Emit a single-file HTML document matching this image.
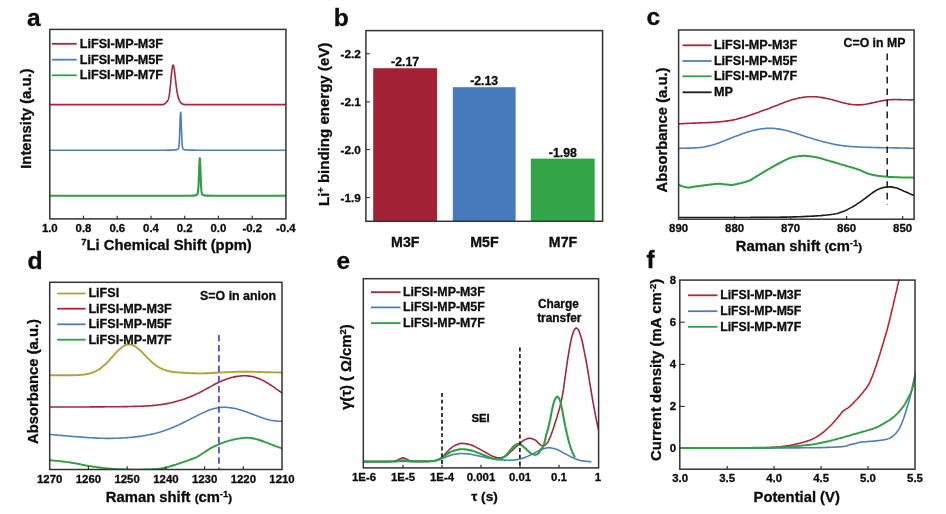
<!DOCTYPE html>
<html lang="en">
<head>
<meta charset="utf-8">
<title>Figure: LiFSI-MP electrolyte characterisation</title>
<style>
html,body{margin:0;padding:0;background:#ffffff;}
body{width:946px;height:514px;overflow:hidden;}
svg{display:block;filter:blur(0.4px);}
svg text{font-family:"Liberation Sans",Arial,Helvetica,sans-serif;font-weight:700;fill:#0c0c0c;stroke:#0c0c0c;stroke-width:0.3px;}
</style>
</head>
<body>
<svg width="946" height="514" viewBox="0 0 946 514">
<rect x="0" y="0" width="946" height="514" fill="#ffffff"/>
<g id="panel-a">
<text x="27" y="26.0" font-size="24.5" text-anchor="start" >a</text>
<path d="M49.8,104.6 L59.8,104.6 L69.8,104.6 L79.9,104.6 L89.9,104.6 L99.9,104.6 L109.9,104.6 L119.9,104.6 L129.9,104.6 L140.0,104.6 L150.0,104.6 L160.0,104.6 L160.2,104.6 L160.3,104.6 L160.4,104.6 L160.5,104.6 L160.6,104.6 L160.7,104.6 L160.8,104.6 L160.9,104.6 L161.0,104.6 L161.1,104.6 L161.2,104.6 L161.3,104.6 L161.4,104.6 L161.5,104.6 L161.6,104.6 L161.7,104.6 L161.8,104.6 L161.9,104.6 L162.0,104.6 L162.1,104.6 L162.2,104.6 L162.3,104.6 L162.4,104.6 L162.5,104.6 L162.6,104.6 L162.7,104.5 L162.8,104.5 L162.9,104.5 L163.0,104.5 L163.1,104.5 L163.2,104.5 L163.3,104.5 L163.4,104.4 L163.5,104.4 L163.6,104.4 L163.7,104.3 L163.8,104.3 L163.9,104.3 L164.0,104.2 L164.1,104.2 L164.2,104.1 L164.3,104.1 L164.4,104.0 L164.5,104.0 L164.6,103.9 L164.7,103.8 L164.8,103.7 L164.9,103.7 L165.0,103.6 L165.1,103.5 L165.2,103.4 L165.3,103.3 L165.4,103.2 L165.5,103.1 L165.6,103.0 L165.7,102.9 L165.8,102.8 L165.9,102.7 L166.0,102.6 L166.1,102.5 L166.2,102.4 L166.3,102.3 L166.4,102.2 L166.5,102.1 L166.6,102.0 L166.7,101.9 L166.8,101.8 L166.9,101.7 L167.0,101.6 L167.1,101.5 L167.2,101.4 L167.3,101.2 L167.4,101.1 L167.5,101.0 L167.6,100.8 L167.7,100.6 L167.8,100.5 L167.9,100.3 L168.0,100.1 L168.1,99.8 L168.2,99.6 L168.3,99.3 L168.4,99.0 L168.5,98.6 L168.6,98.3 L168.7,97.9 L168.8,97.5 L168.9,97.0 L169.0,96.5 L169.1,95.9 L169.2,95.4 L169.3,94.8 L169.4,94.1 L169.5,93.4 L169.6,92.7 L169.7,91.9 L169.8,91.1 L169.9,90.3 L170.0,89.4 L170.1,88.5 L170.2,87.5 L170.3,86.6 L170.4,85.6 L170.5,84.6 L170.6,83.6 L170.7,82.5 L170.8,81.5 L170.9,80.4 L171.0,79.4 L171.1,78.3 L171.2,77.3 L171.3,76.2 L171.4,75.2 L171.5,74.2 L171.6,73.3 L171.7,72.4 L171.8,71.5 L171.9,70.6 L172.0,69.8 L172.1,69.1 L172.2,68.4 L172.3,67.8 L172.4,67.2 L172.5,66.7 L172.6,66.2 L172.7,65.9 L172.8,65.6 L172.9,65.3 L173.0,65.2 L173.1,65.1 L173.2,65.1 L173.3,65.2 L173.4,65.3 L173.5,65.5 L173.6,65.8 L173.7,66.2 L173.8,66.6 L173.9,67.0 L174.0,67.6 L174.1,68.2 L174.2,68.8 L174.3,69.5 L174.4,70.2 L174.5,70.9 L174.6,71.7 L174.7,72.6 L174.8,73.4 L174.9,74.3 L175.0,75.2 L175.1,76.0 L175.2,76.9 L175.3,77.9 L175.4,78.8 L175.5,79.7 L175.6,80.6 L175.7,81.5 L175.8,82.3 L175.9,83.2 L176.0,84.1 L176.1,84.9 L176.2,85.7 L176.3,86.5 L176.4,87.3 L176.5,88.0 L176.6,88.7 L176.7,89.4 L176.8,90.1 L176.9,90.7 L177.0,91.4 L177.1,92.0 L177.2,92.5 L177.3,93.1 L177.4,93.6 L177.5,94.1 L177.6,94.6 L177.7,95.1 L177.8,95.5 L177.9,95.9 L178.0,96.3 L178.1,96.7 L178.2,97.1 L178.3,97.4 L178.4,97.7 L178.5,98.1 L178.6,98.4 L178.7,98.7 L178.8,98.9 L178.9,99.2 L179.0,99.5 L179.1,99.7 L179.2,99.9 L179.3,100.2 L179.4,100.4 L179.5,100.6 L179.6,100.8 L179.7,101.0 L179.8,101.2 L179.9,101.3 L180.0,101.5 L180.1,101.7 L180.2,101.8 L180.3,102.0 L180.4,102.1 L180.5,102.3 L180.6,102.4 L180.7,102.5 L180.8,102.6 L180.9,102.7 L181.0,102.9 L181.1,103.0 L181.2,103.1 L181.3,103.2 L181.4,103.2 L181.5,103.3 L181.6,103.4 L181.7,103.5 L181.8,103.6 L181.9,103.6 L182.0,103.7 L182.1,103.8 L182.2,103.8 L182.3,103.9 L182.4,103.9 L182.5,104.0 L182.6,104.0 L182.7,104.1 L182.8,104.1 L182.9,104.1 L183.0,104.2 L183.1,104.2 L183.1,104.2 L183.2,104.3 L183.3,104.3 L183.4,104.3 L183.5,104.3 L183.6,104.4 L183.7,104.4 L183.8,104.4 L183.9,104.4 L184.0,104.4 L184.1,104.5 L184.2,104.5 L184.3,104.5 L184.4,104.5 L184.5,104.5 L184.6,104.5 L184.7,104.5 L184.8,104.5 L184.9,104.5 L185.0,104.5 L185.1,104.5 L185.2,104.6 L185.3,104.6 L185.4,104.6 L185.5,104.6 L185.6,104.6 L185.7,104.6 L185.8,104.6 L185.9,104.6 L186.0,104.6 L186.1,104.6 L186.2,104.6 L186.3,104.6 L186.4,104.6 L186.5,104.6 L186.6,104.6 L186.7,104.6 L186.8,104.6 L186.9,104.6 L187.0,104.6 L187.1,104.6 L187.2,104.6 L187.3,104.6 L187.4,104.6 L187.5,104.6 L187.6,104.6 L187.7,104.6 L187.8,104.6 L187.9,104.6 L188.0,104.6 L188.1,104.6 L188.2,104.6 L188.3,104.6 L188.4,104.6 L188.5,104.6 L188.6,104.6 L188.7,104.6 L188.8,104.6 L188.9,104.6 L189.0,104.6 L189.1,104.6 L189.2,104.6 L189.3,104.6 L189.4,104.6 L189.5,104.6 L189.6,104.6 L189.7,104.6 L189.8,104.6 L189.9,104.6 L190.0,104.6 L190.1,104.6 L190.2,104.6 L190.3,104.6 L190.4,104.6 L190.5,104.6 L190.6,104.6 L190.7,104.6 L190.8,104.6 L190.9,104.6 L191.0,104.6 L191.1,104.6 L191.2,104.6 L191.3,104.6 L191.4,104.6 L191.5,104.6 L191.6,104.6 L191.7,104.6 L191.8,104.6 L191.9,104.6 L192.0,104.6 L192.1,104.6 L192.2,104.6 L192.3,104.6 L192.4,104.6 L192.5,104.6 L192.6,104.6 L192.7,104.6 L192.8,104.6 L192.9,104.6 L193.0,104.6 L193.1,104.6 L193.2,104.6 L193.3,104.6 L193.4,104.6 L193.5,104.6 L193.6,104.6 L193.7,104.6 L193.8,104.6 L193.9,104.6 L194.0,104.6 L194.1,104.6 L194.2,104.6 L194.3,104.6 L194.4,104.6 L194.5,104.6 L194.6,104.6 L194.7,104.6 L194.8,104.6 L194.9,104.6 L195.0,104.6 L195.1,104.6 L195.2,104.6 L195.3,104.6 L195.4,104.6 L195.5,104.6 L195.6,104.6 L195.7,104.6 L195.8,104.6 L195.9,104.6 L196.0,104.6 L196.1,104.6 L196.2,104.6 L196.3,104.6 L196.4,104.6 L196.5,104.6 L196.6,104.6 L196.7,104.6 L196.8,104.6 L196.9,104.6 L197.0,104.6 L197.1,104.6 L197.2,104.6 L197.3,104.6 L197.4,104.6 L197.5,104.6 L197.6,104.6 L197.7,104.6 L197.8,104.6 L197.9,104.6 L198.0,104.6 L198.1,104.6 L198.2,104.6 L198.3,104.6 L198.4,104.6 L198.5,104.6 L198.6,104.6 L198.7,104.6 L198.8,104.6 L198.9,104.6 L199.0,104.6 L199.1,104.6 L199.2,104.6 L199.3,104.6 L199.4,104.6 L199.5,104.6 L199.6,104.6 L199.7,104.6 L199.8,104.6 L199.9,104.6 L200.0,104.6 L200.1,104.6 L200.2,104.6 L200.3,104.6 L200.4,104.6 L200.5,104.6 L200.6,104.6 L200.7,104.6 L200.8,104.6 L200.9,104.6 L201.0,104.6 L201.1,104.6 L201.2,104.6 L201.3,104.6 L201.4,104.6 L201.5,104.6 L201.6,104.6 L201.7,104.6 L201.8,104.6 L201.9,104.6 L202.0,104.6 L202.1,104.6 L202.2,104.6 L202.3,104.6 L202.4,104.6 L202.5,104.6 L202.6,104.6 L202.7,104.6 L202.8,104.6 L202.9,104.6 L203.0,104.6 L203.1,104.6 L203.2,104.6 L203.3,104.6 L203.4,104.6 L203.5,104.6 L203.6,104.6 L203.7,104.6 L203.8,104.6 L203.9,104.6 L204.0,104.6 L204.1,104.6 L204.2,104.6 L204.3,104.6 L204.4,104.6 L204.5,104.6 L204.6,104.6 L204.7,104.6 L204.8,104.6 L204.9,104.6 L205.0,104.6 L205.1,104.6 L205.2,104.6 L205.3,104.6 L205.4,104.6 L205.5,104.6 L205.6,104.6 L205.7,104.6 L205.8,104.6 L205.9,104.6 L206.0,104.6 L206.5,104.6 L213.7,104.6 L220.9,104.6 L228.2,104.6 L235.4,104.6 L242.6,104.6 L249.8,104.6 L257.0,104.6 L264.2,104.6 L271.5,104.6 L278.7,104.6 L285.9,104.6" fill="none" stroke="#a3283a" stroke-width="1.6" stroke-linejoin="round" stroke-linecap="butt" />
<path d="M49.8,150.2 L59.8,150.2 L69.8,150.2 L79.9,150.2 L89.9,150.2 L99.9,150.2 L109.9,150.2 L119.9,150.2 L129.9,150.2 L140.0,150.2 L150.0,150.2 L160.0,150.2 L160.2,150.2 L160.3,150.2 L160.4,150.2 L160.5,150.2 L160.6,150.2 L160.7,150.2 L160.8,150.2 L160.9,150.2 L161.0,150.2 L161.1,150.2 L161.2,150.2 L161.3,150.2 L161.4,150.2 L161.5,150.2 L161.6,150.2 L161.7,150.2 L161.8,150.2 L161.9,150.2 L162.0,150.2 L162.1,150.2 L162.2,150.2 L162.3,150.2 L162.4,150.2 L162.5,150.2 L162.6,150.2 L162.7,150.2 L162.8,150.2 L162.9,150.2 L163.0,150.2 L163.1,150.2 L163.2,150.2 L163.3,150.2 L163.4,150.2 L163.5,150.2 L163.6,150.2 L163.7,150.2 L163.8,150.2 L163.9,150.2 L164.0,150.2 L164.1,150.2 L164.2,150.2 L164.3,150.2 L164.4,150.2 L164.5,150.2 L164.6,150.2 L164.7,150.2 L164.8,150.2 L164.9,150.2 L165.0,150.2 L165.1,150.2 L165.2,150.2 L165.3,150.2 L165.4,150.2 L165.5,150.2 L165.6,150.2 L165.7,150.2 L165.8,150.2 L165.9,150.2 L166.0,150.2 L166.1,150.2 L166.2,150.2 L166.3,150.2 L166.4,150.2 L166.5,150.2 L166.6,150.2 L166.7,150.2 L166.8,150.1 L166.9,150.1 L167.0,150.1 L167.1,150.1 L167.2,150.1 L167.3,150.1 L167.4,150.1 L167.5,150.1 L167.6,150.1 L167.7,150.1 L167.8,150.1 L167.9,150.1 L168.0,150.1 L168.1,150.1 L168.2,150.1 L168.3,150.1 L168.4,150.1 L168.5,150.1 L168.6,150.1 L168.7,150.1 L168.8,150.1 L168.9,150.1 L169.0,150.1 L169.1,150.1 L169.2,150.1 L169.3,150.1 L169.4,150.1 L169.5,150.1 L169.6,150.1 L169.7,150.1 L169.8,150.1 L169.9,150.1 L170.0,150.1 L170.1,150.1 L170.2,150.1 L170.3,150.1 L170.4,150.1 L170.5,150.1 L170.6,150.1 L170.7,150.1 L170.8,150.1 L170.9,150.1 L171.0,150.1 L171.1,150.1 L171.2,150.1 L171.3,150.1 L171.4,150.1 L171.5,150.1 L171.6,150.1 L171.7,150.1 L171.8,150.1 L171.9,150.1 L172.0,150.1 L172.1,150.1 L172.2,150.1 L172.3,150.1 L172.4,150.1 L172.5,150.1 L172.6,150.1 L172.7,150.1 L172.8,150.0 L172.9,150.0 L173.0,150.0 L173.1,150.0 L173.2,150.0 L173.3,150.0 L173.4,150.0 L173.5,150.0 L173.6,150.0 L173.7,150.0 L173.8,150.0 L173.9,150.0 L174.0,150.0 L174.1,150.0 L174.2,150.0 L174.3,150.0 L174.4,150.0 L174.5,150.0 L174.6,149.9 L174.7,149.9 L174.8,149.9 L174.9,149.9 L175.0,149.9 L175.1,149.9 L175.2,149.9 L175.3,149.9 L175.4,149.9 L175.5,149.9 L175.6,149.8 L175.7,149.8 L175.8,149.8 L175.9,149.8 L176.0,149.8 L176.1,149.8 L176.2,149.7 L176.3,149.7 L176.4,149.7 L176.5,149.7 L176.6,149.7 L176.7,149.6 L176.8,149.6 L176.9,149.6 L177.0,149.6 L177.1,149.5 L177.2,149.5 L177.3,149.4 L177.4,149.4 L177.5,149.4 L177.6,149.3 L177.7,149.3 L177.8,149.2 L177.9,149.1 L178.0,149.0 L178.1,149.0 L178.2,148.8 L178.3,148.7 L178.4,148.5 L178.5,148.3 L178.6,148.0 L178.7,147.6 L178.8,147.1 L178.9,146.4 L179.0,145.6 L179.1,144.6 L179.2,143.3 L179.3,141.7 L179.4,139.9 L179.5,137.8 L179.6,135.4 L179.7,132.8 L179.8,129.9 L179.9,126.9 L180.0,123.9 L180.1,121.1 L180.2,118.4 L180.3,116.1 L180.4,114.2 L180.5,112.9 L180.6,112.3 L180.7,112.3 L180.8,113.0 L180.9,114.4 L181.0,116.3 L181.1,118.7 L181.2,121.4 L181.3,124.3 L181.4,127.3 L181.5,130.2 L181.6,133.1 L181.7,135.7 L181.8,138.0 L181.9,140.1 L182.0,141.9 L182.1,143.4 L182.2,144.7 L182.3,145.7 L182.4,146.5 L182.5,147.1 L182.6,147.6 L182.7,148.0 L182.8,148.3 L182.9,148.5 L183.0,148.7 L183.1,148.8 L183.1,149.0 L183.2,149.1 L183.3,149.1 L183.4,149.2 L183.5,149.3 L183.6,149.3 L183.7,149.4 L183.8,149.4 L183.9,149.5 L184.0,149.5 L184.1,149.5 L184.2,149.6 L184.3,149.6 L184.4,149.6 L184.5,149.6 L184.6,149.7 L184.7,149.7 L184.8,149.7 L184.9,149.7 L185.0,149.8 L185.1,149.8 L185.2,149.8 L185.3,149.8 L185.4,149.8 L185.5,149.8 L185.6,149.8 L185.7,149.9 L185.8,149.9 L185.9,149.9 L186.0,149.9 L186.1,149.9 L186.2,149.9 L186.3,149.9 L186.4,149.9 L186.5,149.9 L186.6,149.9 L186.7,150.0 L186.8,150.0 L186.9,150.0 L187.0,150.0 L187.1,150.0 L187.2,150.0 L187.3,150.0 L187.4,150.0 L187.5,150.0 L187.6,150.0 L187.7,150.0 L187.8,150.0 L187.9,150.0 L188.0,150.0 L188.1,150.0 L188.2,150.0 L188.3,150.0 L188.4,150.0 L188.5,150.1 L188.6,150.1 L188.7,150.1 L188.8,150.1 L188.9,150.1 L189.0,150.1 L189.1,150.1 L189.2,150.1 L189.3,150.1 L189.4,150.1 L189.5,150.1 L189.6,150.1 L189.7,150.1 L189.8,150.1 L189.9,150.1 L190.0,150.1 L190.1,150.1 L190.2,150.1 L190.3,150.1 L190.4,150.1 L190.5,150.1 L190.6,150.1 L190.7,150.1 L190.8,150.1 L190.9,150.1 L191.0,150.1 L191.1,150.1 L191.2,150.1 L191.3,150.1 L191.4,150.1 L191.5,150.1 L191.6,150.1 L191.7,150.1 L191.8,150.1 L191.9,150.1 L192.0,150.1 L192.1,150.1 L192.2,150.1 L192.3,150.1 L192.4,150.1 L192.5,150.1 L192.6,150.1 L192.7,150.1 L192.8,150.1 L192.9,150.1 L193.0,150.1 L193.1,150.1 L193.2,150.1 L193.3,150.1 L193.4,150.1 L193.5,150.1 L193.6,150.1 L193.7,150.1 L193.8,150.1 L193.9,150.1 L194.0,150.1 L194.1,150.1 L194.2,150.1 L194.3,150.1 L194.4,150.2 L194.5,150.2 L194.6,150.2 L194.7,150.2 L194.8,150.2 L194.9,150.2 L195.0,150.2 L195.1,150.2 L195.2,150.2 L195.3,150.2 L195.4,150.2 L195.5,150.2 L195.6,150.2 L195.7,150.2 L195.8,150.2 L195.9,150.2 L196.0,150.2 L196.1,150.2 L196.2,150.2 L196.3,150.2 L196.4,150.2 L196.5,150.2 L196.6,150.2 L196.7,150.2 L196.8,150.2 L196.9,150.2 L197.0,150.2 L197.1,150.2 L197.2,150.2 L197.3,150.2 L197.4,150.2 L197.5,150.2 L197.6,150.2 L197.7,150.2 L197.8,150.2 L197.9,150.2 L198.0,150.2 L198.1,150.2 L198.2,150.2 L198.3,150.2 L198.4,150.2 L198.5,150.2 L198.6,150.2 L198.7,150.2 L198.8,150.2 L198.9,150.2 L199.0,150.2 L199.1,150.2 L199.2,150.2 L199.3,150.2 L199.4,150.2 L199.5,150.2 L199.6,150.2 L199.7,150.2 L199.8,150.2 L199.9,150.2 L200.0,150.2 L200.1,150.2 L200.2,150.2 L200.3,150.2 L200.4,150.2 L200.5,150.2 L200.6,150.2 L200.7,150.2 L200.8,150.2 L200.9,150.2 L201.0,150.2 L201.1,150.2 L201.2,150.2 L201.3,150.2 L201.4,150.2 L201.5,150.2 L201.6,150.2 L201.7,150.2 L201.8,150.2 L201.9,150.2 L202.0,150.2 L202.1,150.2 L202.2,150.2 L202.3,150.2 L202.4,150.2 L202.5,150.2 L202.6,150.2 L202.7,150.2 L202.8,150.2 L202.9,150.2 L203.0,150.2 L203.1,150.2 L203.2,150.2 L203.3,150.2 L203.4,150.2 L203.5,150.2 L203.6,150.2 L203.7,150.2 L203.8,150.2 L203.9,150.2 L204.0,150.2 L204.1,150.2 L204.2,150.2 L204.3,150.2 L204.4,150.2 L204.5,150.2 L204.6,150.2 L204.7,150.2 L204.8,150.2 L204.9,150.2 L205.0,150.2 L205.1,150.2 L205.2,150.2 L205.3,150.2 L205.4,150.2 L205.5,150.2 L205.6,150.2 L205.7,150.2 L205.8,150.2 L205.9,150.2 L206.0,150.2 L206.5,150.2 L213.7,150.2 L220.9,150.2 L228.2,150.2 L235.4,150.2 L242.6,150.2 L249.8,150.2 L257.0,150.2 L264.2,150.2 L271.5,150.2 L278.7,150.2 L285.9,150.2" fill="none" stroke="#4d7fb7" stroke-width="1.6" stroke-linejoin="round" stroke-linecap="butt" />
<path d="M49.8,195.8 L59.8,195.8 L69.8,195.8 L79.9,195.8 L89.9,195.8 L99.9,195.8 L109.9,195.8 L119.9,195.8 L129.9,195.8 L140.0,195.8 L150.0,195.8 L160.0,195.8 L160.2,195.8 L160.3,195.8 L160.4,195.8 L160.5,195.8 L160.6,195.8 L160.7,195.8 L160.8,195.8 L160.9,195.8 L161.0,195.8 L161.1,195.8 L161.2,195.8 L161.3,195.8 L161.4,195.8 L161.5,195.8 L161.6,195.8 L161.7,195.8 L161.8,195.8 L161.9,195.8 L162.0,195.8 L162.1,195.8 L162.2,195.8 L162.3,195.8 L162.4,195.8 L162.5,195.8 L162.6,195.8 L162.7,195.8 L162.8,195.8 L162.9,195.8 L163.0,195.8 L163.1,195.8 L163.2,195.8 L163.3,195.8 L163.4,195.8 L163.5,195.8 L163.6,195.8 L163.7,195.8 L163.8,195.8 L163.9,195.8 L164.0,195.8 L164.1,195.8 L164.2,195.8 L164.3,195.8 L164.4,195.8 L164.5,195.8 L164.6,195.8 L164.7,195.8 L164.8,195.8 L164.9,195.8 L165.0,195.8 L165.1,195.8 L165.2,195.8 L165.3,195.8 L165.4,195.8 L165.5,195.8 L165.6,195.8 L165.7,195.8 L165.8,195.8 L165.9,195.8 L166.0,195.8 L166.1,195.8 L166.2,195.8 L166.3,195.8 L166.4,195.8 L166.5,195.8 L166.6,195.8 L166.7,195.8 L166.8,195.8 L166.9,195.8 L167.0,195.8 L167.1,195.8 L167.2,195.8 L167.3,195.8 L167.4,195.8 L167.5,195.8 L167.6,195.8 L167.7,195.8 L167.8,195.8 L167.9,195.8 L168.0,195.8 L168.1,195.8 L168.2,195.8 L168.3,195.8 L168.4,195.8 L168.5,195.8 L168.6,195.8 L168.7,195.8 L168.8,195.8 L168.9,195.8 L169.0,195.8 L169.1,195.8 L169.2,195.8 L169.3,195.8 L169.4,195.8 L169.5,195.8 L169.6,195.8 L169.7,195.8 L169.8,195.8 L169.9,195.8 L170.0,195.8 L170.1,195.8 L170.2,195.8 L170.3,195.8 L170.4,195.8 L170.5,195.8 L170.6,195.8 L170.7,195.8 L170.8,195.8 L170.9,195.8 L171.0,195.8 L171.1,195.8 L171.2,195.8 L171.3,195.8 L171.4,195.8 L171.5,195.8 L171.6,195.8 L171.7,195.8 L171.8,195.8 L171.9,195.8 L172.0,195.8 L172.1,195.8 L172.2,195.8 L172.3,195.8 L172.4,195.8 L172.5,195.8 L172.6,195.8 L172.7,195.8 L172.8,195.8 L172.9,195.8 L173.0,195.8 L173.1,195.8 L173.2,195.8 L173.3,195.8 L173.4,195.8 L173.5,195.8 L173.6,195.8 L173.7,195.8 L173.8,195.8 L173.9,195.8 L174.0,195.8 L174.1,195.8 L174.2,195.8 L174.3,195.8 L174.4,195.8 L174.5,195.8 L174.6,195.8 L174.7,195.8 L174.8,195.8 L174.9,195.8 L175.0,195.8 L175.1,195.8 L175.2,195.8 L175.3,195.8 L175.4,195.8 L175.5,195.8 L175.6,195.8 L175.7,195.8 L175.8,195.8 L175.9,195.8 L176.0,195.8 L176.1,195.8 L176.2,195.8 L176.3,195.8 L176.4,195.8 L176.5,195.8 L176.6,195.8 L176.7,195.8 L176.8,195.8 L176.9,195.8 L177.0,195.8 L177.1,195.8 L177.2,195.8 L177.3,195.8 L177.4,195.8 L177.5,195.8 L177.6,195.8 L177.7,195.8 L177.8,195.8 L177.9,195.8 L178.0,195.8 L178.1,195.8 L178.2,195.8 L178.3,195.8 L178.4,195.8 L178.5,195.8 L178.6,195.8 L178.7,195.8 L178.8,195.8 L178.9,195.8 L179.0,195.8 L179.1,195.8 L179.2,195.8 L179.3,195.8 L179.4,195.8 L179.5,195.8 L179.6,195.8 L179.7,195.8 L179.8,195.8 L179.9,195.8 L180.0,195.8 L180.1,195.8 L180.2,195.8 L180.3,195.8 L180.4,195.8 L180.5,195.8 L180.6,195.8 L180.7,195.8 L180.8,195.8 L180.9,195.8 L181.0,195.8 L181.1,195.8 L181.2,195.8 L181.3,195.8 L181.4,195.8 L181.5,195.8 L181.6,195.8 L181.7,195.8 L181.8,195.8 L181.9,195.8 L182.0,195.8 L182.1,195.8 L182.2,195.8 L182.3,195.8 L182.4,195.8 L182.5,195.8 L182.6,195.8 L182.7,195.8 L182.8,195.8 L182.9,195.8 L183.0,195.8 L183.1,195.8 L183.1,195.8 L183.2,195.8 L183.3,195.8 L183.4,195.8 L183.5,195.8 L183.6,195.8 L183.7,195.8 L183.8,195.8 L183.9,195.8 L184.0,195.8 L184.1,195.8 L184.2,195.8 L184.3,195.8 L184.4,195.8 L184.5,195.8 L184.6,195.8 L184.7,195.8 L184.8,195.8 L184.9,195.8 L185.0,195.8 L185.1,195.8 L185.2,195.8 L185.3,195.8 L185.4,195.8 L185.5,195.8 L185.6,195.8 L185.7,195.8 L185.8,195.8 L185.9,195.8 L186.0,195.8 L186.1,195.7 L186.2,195.7 L186.3,195.7 L186.4,195.7 L186.5,195.7 L186.6,195.7 L186.7,195.7 L186.8,195.7 L186.9,195.7 L187.0,195.7 L187.1,195.7 L187.2,195.7 L187.3,195.7 L187.4,195.7 L187.5,195.7 L187.6,195.7 L187.7,195.7 L187.8,195.7 L187.9,195.7 L188.0,195.7 L188.1,195.7 L188.2,195.7 L188.3,195.7 L188.4,195.7 L188.5,195.7 L188.6,195.7 L188.7,195.7 L188.8,195.7 L188.9,195.7 L189.0,195.7 L189.1,195.7 L189.2,195.7 L189.3,195.7 L189.4,195.7 L189.5,195.7 L189.6,195.7 L189.7,195.7 L189.8,195.7 L189.9,195.7 L190.0,195.7 L190.1,195.7 L190.2,195.7 L190.3,195.7 L190.4,195.7 L190.5,195.7 L190.6,195.7 L190.7,195.7 L190.8,195.7 L190.9,195.7 L191.0,195.7 L191.1,195.7 L191.2,195.7 L191.3,195.7 L191.4,195.7 L191.5,195.7 L191.6,195.7 L191.7,195.7 L191.8,195.7 L191.9,195.7 L192.0,195.6 L192.1,195.6 L192.2,195.6 L192.3,195.6 L192.4,195.6 L192.5,195.6 L192.6,195.6 L192.7,195.6 L192.8,195.6 L192.9,195.6 L193.0,195.6 L193.1,195.6 L193.2,195.6 L193.3,195.6 L193.4,195.6 L193.5,195.6 L193.6,195.6 L193.7,195.6 L193.8,195.5 L193.9,195.5 L194.0,195.5 L194.1,195.5 L194.2,195.5 L194.3,195.5 L194.4,195.5 L194.5,195.5 L194.6,195.5 L194.7,195.5 L194.8,195.4 L194.9,195.4 L195.0,195.4 L195.1,195.4 L195.2,195.4 L195.3,195.4 L195.4,195.3 L195.5,195.3 L195.6,195.3 L195.7,195.3 L195.8,195.3 L195.9,195.2 L196.0,195.2 L196.1,195.2 L196.2,195.1 L196.3,195.1 L196.4,195.1 L196.5,195.0 L196.6,195.0 L196.7,194.9 L196.8,194.9 L196.9,194.8 L197.0,194.8 L197.1,194.7 L197.2,194.6 L197.3,194.5 L197.4,194.3 L197.5,194.1 L197.6,193.9 L197.7,193.5 L197.8,193.1 L197.9,192.6 L198.0,191.9 L198.1,191.1 L198.2,190.1 L198.3,188.8 L198.4,187.3 L198.5,185.6 L198.6,183.5 L198.7,181.2 L198.8,178.7 L198.9,176.0 L199.0,173.2 L199.1,170.3 L199.2,167.5 L199.3,164.9 L199.4,162.6 L199.5,160.7 L199.6,159.3 L199.7,158.4 L199.8,158.2 L199.9,158.6 L200.0,159.6 L200.1,161.2 L200.2,163.2 L200.3,165.6 L200.4,168.3 L200.5,171.1 L200.6,174.0 L200.7,176.7 L200.8,179.4 L200.9,181.9 L201.0,184.1 L201.1,186.1 L201.2,187.8 L201.3,189.2 L201.4,190.4 L201.5,191.4 L201.6,192.1 L201.7,192.8 L201.8,193.3 L201.9,193.6 L202.0,193.9 L202.1,194.2 L202.2,194.3 L202.3,194.5 L202.4,194.6 L202.5,194.7 L202.6,194.8 L202.7,194.8 L202.8,194.9 L202.9,195.0 L203.0,195.0 L203.1,195.0 L203.2,195.1 L203.3,195.1 L203.4,195.2 L203.5,195.2 L203.6,195.2 L203.7,195.2 L203.8,195.3 L203.9,195.3 L204.0,195.3 L204.1,195.3 L204.2,195.3 L204.3,195.4 L204.4,195.4 L204.5,195.4 L204.6,195.4 L204.7,195.4 L204.8,195.4 L204.9,195.5 L205.0,195.5 L205.1,195.5 L205.2,195.5 L205.3,195.5 L205.4,195.5 L205.5,195.5 L205.6,195.5 L205.7,195.5 L205.8,195.5 L205.9,195.6 L206.0,195.6 L206.5,195.6 L213.7,195.8 L220.9,195.8 L228.2,195.8 L235.4,195.8 L242.6,195.8 L249.8,195.8 L257.0,195.8 L264.2,195.8 L271.5,195.8 L278.7,195.8 L285.9,195.8" fill="none" stroke="#2f9e44" stroke-width="2.1" stroke-linejoin="round" stroke-linecap="butt" />
<rect x="49.8" y="29.4" width="236.1" height="189.5" fill="none" stroke="#333333" stroke-width="1.5"/>
<line x1="83.5" y1="218.9" x2="83.5" y2="215.70000000000002" stroke="#333333" stroke-width="1.2"/>
<line x1="117.3" y1="218.9" x2="117.3" y2="215.70000000000002" stroke="#333333" stroke-width="1.2"/>
<line x1="151.0" y1="218.9" x2="151.0" y2="215.70000000000002" stroke="#333333" stroke-width="1.2"/>
<line x1="184.7" y1="218.9" x2="184.7" y2="215.70000000000002" stroke="#333333" stroke-width="1.2"/>
<line x1="218.4" y1="218.9" x2="218.4" y2="215.70000000000002" stroke="#333333" stroke-width="1.2"/>
<line x1="252.2" y1="218.9" x2="252.2" y2="215.70000000000002" stroke="#333333" stroke-width="1.2"/>
<text x="49.8" y="231.8" font-size="11.4" text-anchor="middle" >1.0</text>
<text x="83.5" y="231.8" font-size="11.4" text-anchor="middle" >0.8</text>
<text x="117.3" y="231.8" font-size="11.4" text-anchor="middle" >0.6</text>
<text x="151.0" y="231.8" font-size="11.4" text-anchor="middle" >0.4</text>
<text x="184.7" y="231.8" font-size="11.4" text-anchor="middle" >0.2</text>
<text x="218.4" y="231.8" font-size="11.4" text-anchor="middle" >0.0</text>
<text x="252.2" y="231.8" font-size="11.4" text-anchor="middle" >-0.2</text>
<text x="285.9" y="231.8" font-size="11.4" text-anchor="middle" >-0.4</text>
<line x1="51.9" y1="43.8" x2="76.7" y2="43.8" stroke="#a3283a" stroke-width="1.8"/>
<text x="79.80000000000001" y="47.7" font-size="12.6" text-anchor="start" >LiFSI-MP-M3F</text>
<line x1="51.9" y1="59.699999999999996" x2="76.7" y2="59.699999999999996" stroke="#4d7fb7" stroke-width="1.8"/>
<text x="79.80000000000001" y="63.6" font-size="12.6" text-anchor="start" >LiFSI-MP-M5F</text>
<line x1="51.9" y1="75.3" x2="76.7" y2="75.3" stroke="#2f9e44" stroke-width="1.8"/>
<text x="79.80000000000001" y="79.2" font-size="12.6" text-anchor="start" >LiFSI-MP-M7F</text>
<text x="166.5" y="250.2" font-size="14.8" text-anchor="middle" ><tspan font-size="9.5" dy="-5">7</tspan><tspan dy="5">Li Chemical Shift (ppm)</tspan></text>
<text transform="translate(31.2,118.6) rotate(-90)" font-size="14.8" text-anchor="middle">Intensity (a.u.)</text>
</g>
<g id="panel-b">
<text x="333.8" y="26.0" font-size="24.5" text-anchor="start" >b</text>
<rect x="373.2" y="68.2" width="63.9" height="153.1" fill="#a42236"/>
<text x="405.1" y="66.2" font-size="12.3" text-anchor="middle" >-2.17</text>
<rect x="452.8" y="87.2" width="62.8" height="134.1" fill="#457abd"/>
<text x="484.2" y="85.2" font-size="12.3" text-anchor="middle" >-2.13</text>
<rect x="530.8" y="158.6" width="63.9" height="62.7" fill="#31a548"/>
<text x="562.8" y="156.6" font-size="12.3" text-anchor="middle" >-1.98</text>
<rect x="365.9" y="30.6" width="236.7" height="190.7" fill="none" stroke="#333333" stroke-width="1.5"/>
<line x1="365.9" y1="53.8" x2="369.9" y2="53.8" stroke="#333333" stroke-width="1.1"/>
<line x1="365.9" y1="101.9" x2="369.9" y2="101.9" stroke="#333333" stroke-width="1.1"/>
<line x1="365.9" y1="149.5" x2="369.9" y2="149.5" stroke="#333333" stroke-width="1.1"/>
<line x1="365.9" y1="197.5" x2="369.9" y2="197.5" stroke="#333333" stroke-width="1.1"/>
<text x="360.8" y="57.9" font-size="11.8" text-anchor="end" >-2.2</text>
<text x="360.8" y="106.0" font-size="11.8" text-anchor="end" >-2.1</text>
<text x="360.8" y="153.6" font-size="11.8" text-anchor="end" >-2.0</text>
<text x="360.8" y="201.6" font-size="11.8" text-anchor="end" >-1.9</text>
<text x="405.3" y="247.3" font-size="14.2" text-anchor="middle" >M3F</text>
<text x="484.4" y="247.3" font-size="14.2" text-anchor="middle" >M5F</text>
<text x="563.0" y="247.3" font-size="14.2" text-anchor="middle" >M7F</text>
<text transform="translate(328.6,124.3) rotate(-90)" font-size="15.05" text-anchor="middle">Li<tspan font-size="9" dy="-5">+</tspan><tspan dy="5"> binding energy (eV)</tspan></text>
</g>
<g id="panel-c">
<text x="646.5" y="25.0" font-size="24.5" text-anchor="start" >c</text>
<clipPath id="clc"><rect x="678.6" y="30" width="235.8" height="188.3"/></clipPath>
<g clip-path="url(#clc)">
<path d="M678.6,123.9 L680.1,123.8 L681.6,123.7 L683.0,123.6 L684.5,123.5 L686.0,123.5 L687.5,123.4 L689.0,123.3 L690.5,123.3 L691.9,123.2 L693.4,123.1 L694.9,123.1 L696.4,123.0 L697.9,123.0 L699.4,122.9 L700.8,122.9 L702.3,122.8 L703.8,122.8 L705.3,122.7 L706.8,122.6 L708.3,122.6 L709.7,122.5 L711.2,122.4 L712.7,122.3 L714.2,122.2 L715.7,122.1 L717.2,122.0 L718.6,121.9 L720.1,121.8 L721.6,121.6 L723.1,121.5 L724.6,121.3 L726.1,121.1 L727.5,120.9 L729.0,120.7 L730.5,120.4 L732.0,120.2 L733.5,119.9 L735.0,119.5 L736.4,119.2 L737.9,118.8 L739.4,118.4 L740.9,118.0 L742.4,117.6 L743.9,117.2 L745.3,116.7 L746.8,116.2 L748.3,115.7 L749.8,115.2 L751.3,114.7 L752.8,114.2 L754.2,113.7 L755.7,113.2 L757.2,112.7 L758.7,112.2 L760.2,111.6 L761.6,111.1 L763.1,110.6 L764.6,110.0 L766.1,109.5 L767.6,108.9 L769.1,108.4 L770.5,107.8 L772.0,107.2 L773.5,106.6 L775.0,106.1 L776.5,105.5 L778.0,104.9 L779.4,104.3 L780.9,103.7 L782.4,103.2 L783.9,102.6 L785.4,102.1 L786.9,101.6 L788.3,101.0 L789.8,100.6 L791.3,100.1 L792.8,99.6 L794.3,99.2 L795.8,98.8 L797.2,98.5 L798.7,98.1 L800.2,97.8 L801.7,97.6 L803.2,97.3 L804.7,97.1 L806.1,97.0 L807.6,96.8 L809.1,96.7 L810.6,96.7 L812.1,96.7 L813.6,96.7 L815.0,96.8 L816.5,96.9 L818.0,97.0 L819.5,97.2 L821.0,97.4 L822.5,97.6 L823.9,97.9 L825.4,98.2 L826.9,98.5 L828.4,98.8 L829.9,99.2 L831.4,99.5 L832.8,99.9 L834.3,100.3 L835.8,100.8 L837.3,101.2 L838.8,101.6 L840.2,102.0 L841.7,102.4 L843.2,102.8 L844.7,103.1 L846.2,103.5 L847.7,103.8 L849.1,104.1 L850.6,104.3 L852.1,104.5 L853.6,104.7 L855.1,104.8 L856.6,104.9 L858.0,104.9 L859.5,104.9 L861.0,104.8 L862.5,104.6 L864.0,104.5 L865.5,104.3 L866.9,104.0 L868.4,103.7 L869.9,103.4 L871.4,103.1 L872.9,102.8 L874.4,102.5 L875.8,102.1 L877.3,101.8 L878.8,101.5 L880.3,101.1 L881.8,100.8 L883.3,100.6 L884.7,100.3 L886.2,100.1 L887.7,99.9 L889.2,99.8 L890.7,99.7 L892.2,99.6 L893.6,99.6 L895.1,99.5 L896.6,99.5 L898.1,99.6 L899.6,99.6 L901.1,99.6 L902.5,99.7 L904.0,99.7 L905.5,99.8 L907.0,99.8 L908.5,99.8 L910.0,99.9 L911.4,99.9 L912.9,99.8 L914.4,99.8" fill="none" stroke="#a3283a" stroke-width="1.6" stroke-linejoin="round" stroke-linecap="butt" />
<path d="M678.6,148.5 L680.1,148.4 L681.6,148.3 L683.0,148.3 L684.5,148.2 L686.0,148.2 L687.5,148.1 L689.0,148.1 L690.5,148.1 L691.9,148.0 L693.4,147.9 L694.9,147.9 L696.4,147.8 L697.9,147.7 L699.4,147.5 L700.8,147.4 L702.3,147.2 L703.8,147.0 L705.3,146.7 L706.8,146.4 L708.3,146.1 L709.7,145.7 L711.2,145.3 L712.7,144.9 L714.2,144.4 L715.7,144.0 L717.2,143.5 L718.6,142.9 L720.1,142.4 L721.6,141.8 L723.1,141.2 L724.6,140.7 L726.1,140.1 L727.5,139.5 L729.0,138.9 L730.5,138.3 L732.0,137.7 L733.5,137.1 L735.0,136.6 L736.4,136.0 L737.9,135.4 L739.4,134.9 L740.9,134.3 L742.4,133.8 L743.9,133.3 L745.3,132.8 L746.8,132.3 L748.3,131.8 L749.8,131.4 L751.3,131.0 L752.8,130.6 L754.2,130.2 L755.7,129.9 L757.2,129.6 L758.7,129.3 L760.2,129.0 L761.6,128.8 L763.1,128.7 L764.6,128.5 L766.1,128.4 L767.6,128.3 L769.1,128.3 L770.5,128.3 L772.0,128.3 L773.5,128.4 L775.0,128.5 L776.5,128.7 L778.0,128.9 L779.4,129.1 L780.9,129.4 L782.4,129.6 L783.9,129.9 L785.4,130.3 L786.9,130.7 L788.3,131.1 L789.8,131.5 L791.3,131.9 L792.8,132.4 L794.3,132.8 L795.8,133.3 L797.2,133.8 L798.7,134.3 L800.2,134.8 L801.7,135.3 L803.2,135.8 L804.7,136.2 L806.1,136.7 L807.6,137.2 L809.1,137.6 L810.6,138.1 L812.1,138.5 L813.6,139.0 L815.0,139.4 L816.5,139.8 L818.0,140.2 L819.5,140.7 L821.0,141.1 L822.5,141.5 L823.9,141.9 L825.4,142.2 L826.9,142.6 L828.4,143.0 L829.9,143.3 L831.4,143.6 L832.8,144.0 L834.3,144.3 L835.8,144.6 L837.3,144.8 L838.8,145.1 L840.2,145.3 L841.7,145.5 L843.2,145.7 L844.7,145.9 L846.2,146.1 L847.7,146.2 L849.1,146.4 L850.6,146.5 L852.1,146.6 L853.6,146.7 L855.1,146.8 L856.6,146.9 L858.0,147.0 L859.5,147.0 L861.0,147.1 L862.5,147.2 L864.0,147.2 L865.5,147.3 L866.9,147.3 L868.4,147.4 L869.9,147.4 L871.4,147.4 L872.9,147.5 L874.4,147.5 L875.8,147.6 L877.3,147.6 L878.8,147.6 L880.3,147.6 L881.8,147.7 L883.3,147.7 L884.7,147.7 L886.2,147.7 L887.7,147.8 L889.2,147.8 L890.7,147.8 L892.2,147.8 L893.6,147.9 L895.1,147.9 L896.6,147.9 L898.1,147.9 L899.6,148.0 L901.1,148.0 L902.5,148.0 L904.0,148.0 L905.5,148.1 L907.0,148.1 L908.5,148.1 L910.0,148.2 L911.4,148.2 L912.9,148.3 L914.4,148.3" fill="none" stroke="#4d7fb7" stroke-width="1.6" stroke-linejoin="round" stroke-linecap="butt" />
<path d="M678.6,184.9 L679.7,185.3 L680.8,185.7 L681.8,186.1 L682.9,186.4 L684.0,186.7 L685.1,186.9 L686.1,187.2 L687.2,187.4 L688.3,187.5 L689.4,187.5 L690.4,187.4 L691.5,187.2 L692.6,187.0 L693.7,186.8 L694.8,186.6 L695.8,186.5 L696.9,186.3 L698.0,186.2 L699.1,186.0 L700.1,185.9 L701.2,185.7 L702.3,185.6 L703.4,185.5 L704.4,185.3 L705.5,185.2 L706.6,185.0 L707.7,184.9 L708.7,184.8 L709.8,184.6 L710.9,184.5 L712.0,184.4 L713.1,184.3 L714.1,184.1 L715.2,184.0 L716.3,183.9 L717.4,183.8 L718.4,183.7 L719.5,183.7 L720.6,183.8 L721.7,183.9 L722.7,184.1 L723.8,184.3 L724.9,184.4 L726.0,184.5 L727.1,184.6 L728.1,184.7 L729.2,184.8 L730.3,184.9 L731.4,184.9 L732.4,184.9 L733.5,184.7 L734.6,184.5 L735.7,184.3 L736.7,184.1 L737.8,183.8 L738.9,183.6 L740.0,183.4 L741.0,183.1 L742.1,182.8 L743.2,182.5 L744.3,182.3 L745.4,182.0 L746.4,181.6 L747.5,181.3 L748.6,180.9 L749.7,180.5 L750.7,180.0 L751.8,179.4 L752.9,178.7 L754.0,178.0 L755.0,177.3 L756.1,176.6 L757.2,176.0 L758.3,175.3 L759.4,174.7 L760.4,174.0 L761.5,173.4 L762.6,172.7 L763.7,172.1 L764.7,171.4 L765.8,170.8 L766.9,170.1 L768.0,169.5 L769.0,168.9 L770.1,168.3 L771.2,167.6 L772.3,167.0 L773.4,166.4 L774.4,165.8 L775.5,165.2 L776.6,164.6 L777.7,164.0 L778.7,163.5 L779.8,162.9 L780.9,162.3 L782.0,161.8 L783.0,161.2 L784.1,160.7 L785.2,160.1 L786.3,159.6 L787.3,159.0 L788.4,158.6 L789.5,158.2 L790.6,157.8 L791.7,157.5 L792.7,157.2 L793.8,157.0 L794.9,156.8 L796.0,156.6 L797.0,156.4 L798.1,156.3 L799.2,156.1 L800.3,156.0 L801.3,155.9 L802.4,155.8 L803.5,155.8 L804.6,155.8 L805.7,155.9 L806.7,156.0 L807.8,156.1 L808.9,156.2 L810.0,156.3 L811.0,156.4 L812.1,156.6 L813.2,156.7 L814.3,156.9 L815.3,157.1 L816.4,157.2 L817.5,157.5 L818.6,157.7 L819.6,158.0 L820.7,158.3 L821.8,158.6 L822.9,159.0 L824.0,159.3 L825.0,159.6 L826.1,160.0 L827.2,160.3 L828.3,160.6 L829.3,160.9 L830.4,161.2 L831.5,161.5 L832.6,161.8 L833.6,162.2 L834.7,162.5 L835.8,162.8 L836.9,163.1 L838.0,163.4 L839.0,163.7 L840.1,164.1 L841.2,164.4 L842.3,164.7 L843.3,165.0 L844.4,165.3 L845.5,165.6 L846.6,166.0 L847.6,166.3 L848.7,166.6 L849.8,166.9 L850.9,167.2 L852.0,167.5 L853.0,167.8 L854.1,168.1 L855.2,168.5 L856.3,168.8 L857.3,169.2 L858.4,169.5 L859.5,169.9 L860.6,170.4 L861.6,170.8 L862.7,171.3 L863.8,171.8 L864.9,172.3 L865.9,172.8 L867.0,173.2 L868.1,173.6 L869.2,174.0 L870.3,174.3 L871.3,174.5 L872.4,174.8 L873.5,175.0 L874.6,175.2 L875.6,175.4 L876.7,175.6 L877.8,175.8 L878.9,175.9 L879.9,176.0 L881.0,176.2 L882.1,176.3 L883.2,176.4 L884.3,176.5 L885.3,176.6 L886.4,176.7 L887.5,176.8 L888.6,176.9 L889.6,176.9 L890.7,177.0 L891.8,177.1 L892.9,177.1 L893.9,177.2 L895.0,177.2 L896.1,177.2 L897.2,177.3 L898.2,177.3 L899.3,177.3 L900.4,177.4 L901.5,177.4 L902.6,177.4 L903.6,177.5 L904.7,177.5 L905.8,177.5 L906.9,177.5 L907.9,177.5 L909.0,177.6 L910.1,177.6 L911.2,177.6 L912.2,177.6 L913.3,177.6 L914.4,177.6" fill="none" stroke="#2f9e44" stroke-width="2.0" stroke-linejoin="round" stroke-linecap="butt" />
<path d="M678.6,217.6 L680.1,217.6 L681.6,217.6 L683.0,217.6 L684.5,217.6 L686.0,217.6 L687.5,217.6 L689.0,217.6 L690.5,217.6 L691.9,217.6 L693.4,217.6 L694.9,217.6 L696.4,217.6 L697.9,217.6 L699.4,217.6 L700.8,217.6 L702.3,217.6 L703.8,217.6 L705.3,217.6 L706.8,217.6 L708.3,217.6 L709.7,217.6 L711.2,217.6 L712.7,217.6 L714.2,217.6 L715.7,217.6 L717.2,217.6 L718.6,217.6 L720.1,217.6 L721.6,217.5 L723.1,217.5 L724.6,217.5 L726.1,217.5 L727.5,217.5 L729.0,217.5 L730.5,217.5 L732.0,217.5 L733.5,217.5 L735.0,217.5 L736.4,217.5 L737.9,217.5 L739.4,217.5 L740.9,217.5 L742.4,217.5 L743.9,217.5 L745.3,217.5 L746.8,217.5 L748.3,217.5 L749.8,217.5 L751.3,217.4 L752.8,217.4 L754.2,217.4 L755.7,217.4 L757.2,217.4 L758.7,217.4 L760.2,217.4 L761.6,217.4 L763.1,217.4 L764.6,217.3 L766.1,217.3 L767.6,217.3 L769.1,217.3 L770.5,217.3 L772.0,217.3 L773.5,217.2 L775.0,217.2 L776.5,217.2 L778.0,217.2 L779.4,217.2 L780.9,217.1 L782.4,217.1 L783.9,217.1 L785.4,217.1 L786.9,217.1 L788.3,217.0 L789.8,217.0 L791.3,217.0 L792.8,216.9 L794.3,216.9 L795.8,216.9 L797.2,216.8 L798.7,216.8 L800.2,216.7 L801.7,216.6 L803.2,216.6 L804.7,216.5 L806.1,216.4 L807.6,216.4 L809.1,216.3 L810.6,216.2 L812.1,216.1 L813.6,216.1 L815.0,216.0 L816.5,215.9 L818.0,215.8 L819.5,215.7 L821.0,215.6 L822.5,215.4 L823.9,215.3 L825.4,215.2 L826.9,215.0 L828.4,214.8 L829.9,214.7 L831.4,214.5 L832.8,214.3 L834.3,214.0 L835.8,213.8 L837.3,213.5 L838.8,213.1 L840.2,212.6 L841.7,212.1 L843.2,211.5 L844.7,210.9 L846.2,210.2 L847.7,209.4 L849.1,208.6 L850.6,207.9 L852.1,207.1 L853.6,206.2 L855.1,205.4 L856.6,204.4 L858.0,203.4 L859.5,202.4 L861.0,201.4 L862.5,200.3 L864.0,199.2 L865.5,198.1 L866.9,197.0 L868.4,195.9 L869.9,194.7 L871.4,193.6 L872.9,192.5 L874.4,191.5 L875.8,190.6 L877.3,189.8 L878.8,189.1 L880.3,188.5 L881.8,188.0 L883.3,187.6 L884.7,187.3 L886.2,187.1 L887.7,187.0 L889.2,186.9 L890.7,186.9 L892.2,187.1 L893.6,187.4 L895.1,187.7 L896.6,188.1 L898.1,188.5 L899.6,189.2 L901.1,189.8 L902.5,190.5 L904.0,191.2 L905.5,191.8 L907.0,192.5 L908.5,193.1 L910.0,193.8 L911.4,194.5 L912.9,195.1 L914.4,195.8" fill="none" stroke="#1a1a1a" stroke-width="1.6" stroke-linejoin="round" stroke-linecap="butt" />
</g>
<line x1="887.2" y1="53.6" x2="887.2" y2="205" stroke="#1a1a1a" stroke-width="1.5" stroke-dasharray="6.6,5"/>
<rect x="678.6" y="30.0" width="235.5" height="189.2" fill="none" stroke="#333333" stroke-width="1.5"/>
<line x1="734.6" y1="219.2" x2="734.6" y2="216.0" stroke="#333333" stroke-width="1.2"/>
<line x1="790.6" y1="219.2" x2="790.6" y2="216.0" stroke="#333333" stroke-width="1.2"/>
<line x1="846.6" y1="219.2" x2="846.6" y2="216.0" stroke="#333333" stroke-width="1.2"/>
<line x1="902.6" y1="219.2" x2="902.6" y2="216.0" stroke="#333333" stroke-width="1.2"/>
<text x="678.6" y="232.0" font-size="11.4" text-anchor="middle" >890</text>
<text x="734.6" y="232.0" font-size="11.4" text-anchor="middle" >880</text>
<text x="790.6" y="232.0" font-size="11.4" text-anchor="middle" >870</text>
<text x="846.6" y="232.0" font-size="11.4" text-anchor="middle" >860</text>
<text x="902.6" y="232.0" font-size="11.4" text-anchor="middle" >850</text>
<line x1="682.5" y1="45.3" x2="711.6" y2="45.3" stroke="#a3283a" stroke-width="1.8"/>
<text x="713.9" y="49.2" font-size="12.6" text-anchor="start" >LiFSI-MP-M3F</text>
<line x1="682.5" y1="61.0" x2="711.6" y2="61.0" stroke="#4d7fb7" stroke-width="1.8"/>
<text x="713.9" y="64.9" font-size="12.6" text-anchor="start" >LiFSI-MP-M5F</text>
<line x1="682.5" y1="76.3" x2="711.6" y2="76.3" stroke="#2f9e44" stroke-width="1.8"/>
<text x="713.9" y="80.2" font-size="12.6" text-anchor="start" >LiFSI-MP-M7F</text>
<line x1="682.5" y1="92.3" x2="711.6" y2="92.3" stroke="#1a1a1a" stroke-width="1.8"/>
<text x="713.9" y="96.2" font-size="12.6" text-anchor="start" >MP</text>
<text x="874.5" y="47.3" font-size="12.3" text-anchor="middle" >C=O in MP</text>
<text x="799" y="251.4" font-size="14.8" text-anchor="middle" >Raman shift <tspan font-size="11.5">(</tspan>cm<tspan font-size="9.5" dy="-5">-1</tspan><tspan dy="5" font-size="11.5">)</tspan></text>
<text transform="translate(666.8,130) rotate(-90)" font-size="14.8" text-anchor="middle">Absorbance (a.u.)</text>
</g>
<g id="panel-d">
<text x="27.4" y="269.1" font-size="24.8" text-anchor="start" >d</text>
<clipPath id="cld"><rect x="49.7" y="281.9" width="233" height="187.5"/></clipPath>
<g clip-path="url(#cld)">
<path d="M49.7,375.3 L50.3,375.3 L50.9,375.3 L51.4,375.3 L52.0,375.3 L52.6,375.3 L53.2,375.3 L53.8,375.3 L54.4,375.3 L54.9,375.3 L55.5,375.3 L56.1,375.3 L56.7,375.3 L57.3,375.3 L57.9,375.3 L58.4,375.3 L59.0,375.3 L59.6,375.3 L60.2,375.3 L60.8,375.3 L61.3,375.3 L61.9,375.3 L62.5,375.3 L63.1,375.3 L63.7,375.3 L64.3,375.3 L64.8,375.3 L65.4,375.3 L66.0,375.3 L66.6,375.3 L67.2,375.3 L67.7,375.3 L68.3,375.3 L68.9,375.3 L69.5,375.3 L70.1,375.2 L70.7,375.2 L71.2,375.2 L71.8,375.2 L72.4,375.2 L73.0,375.2 L73.6,375.2 L74.2,375.2 L74.7,375.2 L75.3,375.1 L75.9,375.1 L76.5,375.1 L77.1,375.1 L77.6,375.1 L78.2,375.0 L78.8,375.0 L79.4,375.0 L80.0,374.9 L80.6,374.9 L81.1,374.8 L81.7,374.8 L82.3,374.7 L82.9,374.7 L83.5,374.6 L84.1,374.5 L84.6,374.5 L85.2,374.4 L85.8,374.3 L86.4,374.2 L87.0,374.1 L87.5,374.0 L88.1,373.9 L88.7,373.7 L89.3,373.6 L89.9,373.4 L90.5,373.3 L91.0,373.1 L91.6,372.9 L92.2,372.7 L92.8,372.5 L93.4,372.3 L93.9,372.1 L94.5,371.8 L95.1,371.5 L95.7,371.3 L96.3,371.0 L96.9,370.7 L97.4,370.3 L98.0,370.0 L98.6,369.6 L99.2,369.2 L99.8,368.9 L100.4,368.4 L100.9,368.0 L101.5,367.6 L102.1,367.1 L102.7,366.6 L103.3,366.1 L103.8,365.6 L104.4,365.1 L105.0,364.6 L105.6,364.0 L106.2,363.4 L106.8,362.9 L107.3,362.3 L107.9,361.7 L108.5,361.0 L109.1,360.4 L109.7,359.8 L110.2,359.1 L110.8,358.5 L111.4,357.8 L112.0,357.2 L112.6,356.5 L113.2,355.9 L113.7,355.2 L114.3,354.6 L114.9,353.9 L115.5,353.3 L116.1,352.6 L116.7,352.0 L117.2,351.4 L117.8,350.8 L118.4,350.3 L119.0,349.7 L119.6,349.2 L120.1,348.7 L120.7,348.2 L121.3,347.7 L121.9,347.3 L122.5,346.8 L123.1,346.5 L123.6,346.1 L124.2,345.8 L124.8,345.5 L125.4,345.3 L126.0,345.0 L126.6,344.9 L127.1,344.7 L127.7,344.6 L128.3,344.5 L128.9,344.5 L129.5,344.5 L130.0,344.6 L130.6,344.6 L131.2,344.8 L131.8,344.9 L132.4,345.1 L133.0,345.3 L133.5,345.6 L134.1,345.9 L134.7,346.2 L135.3,346.5 L135.9,346.9 L136.4,347.3 L137.0,347.7 L137.6,348.2 L138.2,348.7 L138.8,349.2 L139.4,349.7 L139.9,350.2 L140.5,350.8 L141.1,351.3 L141.7,351.9 L142.3,352.5 L142.9,353.1 L143.4,353.7 L144.0,354.3 L144.6,354.9 L145.2,355.5 L145.8,356.1 L146.3,356.7 L146.9,357.3 L147.5,357.9 L148.1,358.5 L148.7,359.1 L149.3,359.7 L149.8,360.2 L150.4,360.8 L151.0,361.3 L151.6,361.9 L152.2,362.4 L152.8,362.9 L153.3,363.4 L153.9,363.9 L154.5,364.3 L155.1,364.8 L155.7,365.2 L156.2,365.6 L156.8,366.0 L157.4,366.4 L158.0,366.8 L158.6,367.1 L159.2,367.5 L159.7,367.8 L160.3,368.1 L160.9,368.4 L161.5,368.7 L162.1,369.0 L162.6,369.2 L163.2,369.4 L163.8,369.7 L164.4,369.9 L165.0,370.1 L165.6,370.3 L166.1,370.4 L166.7,370.6 L167.3,370.8 L167.9,370.9 L168.5,371.1 L169.1,371.2 L169.6,371.3 L170.2,371.4 L170.8,371.5 L171.4,371.6 L172.0,371.7 L172.5,371.8 L173.1,371.9 L173.7,372.0 L174.3,372.0 L174.9,372.1 L175.5,372.2 L176.0,372.2 L176.6,372.3 L177.2,372.3 L177.8,372.4 L178.4,372.4 L178.9,372.5 L179.5,372.5 L180.1,372.5 L180.7,372.6 L181.3,372.6 L181.9,372.7 L182.4,372.7 L183.0,372.7 L183.6,372.8 L184.2,372.8 L184.8,372.8 L185.4,372.9 L185.9,372.9 L186.5,372.9 L187.1,373.0 L187.7,373.0 L188.3,373.0 L188.8,373.1 L189.4,373.1 L190.0,373.1 L190.6,373.2 L191.2,373.2 L191.8,373.2 L192.3,373.2 L192.9,373.3 L193.5,373.3 L194.1,373.3 L194.7,373.3 L195.3,373.3 L195.8,373.3 L196.4,373.4 L197.0,373.4 L197.6,373.4 L198.2,373.4 L198.7,373.4 L199.3,373.4 L199.9,373.4 L200.5,373.4 L201.1,373.4 L201.7,373.4 L202.2,373.4 L202.8,373.4 L203.4,373.4 L204.0,373.3 L204.6,373.3 L205.1,373.3 L205.7,373.3 L206.3,373.3 L206.9,373.2 L207.5,373.2 L208.1,373.2 L208.6,373.2 L209.2,373.1 L209.8,373.1 L210.4,373.1 L211.0,373.1 L211.6,373.0 L212.1,373.0 L212.7,373.0 L213.3,372.9 L213.9,372.9 L214.5,372.9 L215.0,372.8 L215.6,372.8 L216.2,372.8 L216.8,372.7 L217.4,372.7 L218.0,372.7 L218.5,372.6 L219.1,372.6 L219.7,372.6 L220.3,372.5 L220.9,372.5 L221.5,372.5 L222.0,372.5 L222.6,372.4 L223.2,372.4 L223.8,372.4 L224.4,372.3 L224.9,372.3 L225.5,372.3 L226.1,372.3 L226.7,372.2 L227.3,372.2 L227.9,372.2 L228.4,372.2 L229.0,372.1 L229.6,372.1 L230.2,372.1 L230.8,372.1 L231.3,372.0 L231.9,372.0 L232.5,372.0 L233.1,372.0 L233.7,371.9 L234.3,371.9 L234.8,371.9 L235.4,371.9 L236.0,371.9 L236.6,371.8 L237.2,371.8 L237.8,371.8 L238.3,371.8 L238.9,371.8 L239.5,371.8 L240.1,371.8 L240.7,371.7 L241.2,371.7 L241.8,371.7 L242.4,371.7 L243.0,371.7 L243.6,371.7 L244.2,371.7 L244.7,371.7 L245.3,371.7 L245.9,371.7 L246.5,371.7 L247.1,371.7 L247.6,371.7 L248.2,371.7 L248.8,371.7 L249.4,371.7 L250.0,371.7 L250.6,371.8 L251.1,371.8 L251.7,371.8 L252.3,371.8 L252.9,371.8 L253.5,371.8 L254.1,371.9 L254.6,371.9 L255.2,371.9 L255.8,371.9 L256.4,371.9 L257.0,371.9 L257.5,372.0 L258.1,372.0 L258.7,372.0 L259.3,372.0 L259.9,372.0 L260.5,372.1 L261.0,372.1 L261.6,372.1 L262.2,372.1 L262.8,372.1 L263.4,372.2 L264.0,372.2 L264.5,372.2 L265.1,372.2 L265.7,372.2 L266.3,372.2 L266.9,372.3 L267.4,372.3 L268.0,372.3 L268.6,372.3 L269.2,372.3 L269.8,372.3 L270.4,372.3 L270.9,372.4 L271.5,372.4 L272.1,372.4 L272.7,372.4 L273.3,372.4 L273.8,372.4 L274.4,372.4 L275.0,372.4 L275.6,372.4 L276.2,372.4 L276.8,372.4 L277.3,372.4 L277.9,372.4 L278.5,372.5 L279.1,372.5 L279.7,372.5 L280.3,372.5 L280.8,372.5 L281.4,372.5 L282.0,372.5" fill="none" stroke="#b3a13c" stroke-width="1.9" stroke-linejoin="round" stroke-linecap="butt" />
<path d="M49.7,407.0 L51.2,407.0 L52.6,407.0 L54.1,407.0 L55.6,407.0 L57.0,407.0 L58.5,407.0 L60.0,407.0 L61.4,407.0 L62.9,407.0 L64.4,407.0 L65.8,407.0 L67.3,407.0 L68.8,407.0 L70.2,407.0 L71.7,407.0 L73.1,407.0 L74.6,407.0 L76.1,407.0 L77.5,407.0 L79.0,407.0 L80.5,407.0 L81.9,407.0 L83.4,407.0 L84.9,407.0 L86.3,407.0 L87.8,407.0 L89.3,407.0 L90.7,406.9 L92.2,406.9 L93.7,406.9 L95.1,406.9 L96.6,406.9 L98.1,406.9 L99.5,406.9 L101.0,406.9 L102.5,406.9 L103.9,406.9 L105.4,406.8 L106.9,406.8 L108.3,406.8 L109.8,406.8 L111.2,406.8 L112.7,406.8 L114.2,406.8 L115.6,406.7 L117.1,406.7 L118.6,406.7 L120.0,406.7 L121.5,406.7 L123.0,406.6 L124.4,406.6 L125.9,406.6 L127.4,406.6 L128.8,406.5 L130.3,406.5 L131.8,406.5 L133.2,406.4 L134.7,406.4 L136.2,406.4 L137.6,406.3 L139.1,406.3 L140.6,406.2 L142.0,406.2 L143.5,406.1 L145.0,406.0 L146.4,406.0 L147.9,405.9 L149.3,405.8 L150.8,405.7 L152.3,405.6 L153.7,405.4 L155.2,405.3 L156.7,405.1 L158.1,405.0 L159.6,404.8 L161.1,404.6 L162.5,404.4 L164.0,404.1 L165.5,403.9 L166.9,403.6 L168.4,403.3 L169.9,403.0 L171.3,402.7 L172.8,402.4 L174.3,402.0 L175.7,401.6 L177.2,401.2 L178.7,400.8 L180.1,400.3 L181.6,399.9 L183.1,399.4 L184.5,398.9 L186.0,398.4 L187.4,397.8 L188.9,397.3 L190.4,396.7 L191.8,396.1 L193.3,395.5 L194.8,394.8 L196.2,394.1 L197.7,393.4 L199.2,392.7 L200.6,392.0 L202.1,391.2 L203.6,390.4 L205.0,389.6 L206.5,388.8 L208.0,388.0 L209.4,387.2 L210.9,386.4 L212.4,385.6 L213.8,384.8 L215.3,384.0 L216.8,383.3 L218.2,382.5 L219.7,381.8 L221.2,381.2 L222.6,380.5 L224.1,380.0 L225.5,379.4 L227.0,378.9 L228.5,378.4 L229.9,378.0 L231.4,377.6 L232.9,377.2 L234.3,376.9 L235.8,376.6 L237.3,376.4 L238.7,376.2 L240.2,376.0 L241.7,375.9 L243.1,375.8 L244.6,375.8 L246.1,375.8 L247.5,375.9 L249.0,376.1 L250.5,376.3 L251.9,376.5 L253.4,376.8 L254.9,377.2 L256.3,377.7 L257.8,378.2 L259.3,378.8 L260.7,379.4 L262.2,380.1 L263.6,380.8 L265.1,381.6 L266.6,382.5 L268.0,383.3 L269.5,384.3 L271.0,385.2 L272.4,386.2 L273.9,387.2 L275.4,388.3 L276.8,389.3 L278.3,390.3 L279.8,391.4 L281.2,392.4 L282.7,393.4" fill="none" stroke="#a3283a" stroke-width="1.6" stroke-linejoin="round" stroke-linecap="butt" />
<path d="M49.7,434.4 L51.2,434.5 L52.6,434.7 L54.1,434.8 L55.6,434.9 L57.0,435.1 L58.5,435.2 L60.0,435.3 L61.4,435.5 L62.9,435.6 L64.4,435.7 L65.8,435.8 L67.3,436.0 L68.8,436.1 L70.2,436.2 L71.7,436.3 L73.1,436.5 L74.6,436.6 L76.1,436.7 L77.5,436.8 L79.0,436.9 L80.5,437.0 L81.9,437.1 L83.4,437.3 L84.9,437.4 L86.3,437.5 L87.8,437.6 L89.3,437.7 L90.7,437.7 L92.2,437.8 L93.7,437.9 L95.1,438.0 L96.6,438.1 L98.1,438.1 L99.5,438.2 L101.0,438.3 L102.5,438.3 L103.9,438.3 L105.4,438.4 L106.9,438.4 L108.3,438.4 L109.8,438.4 L111.2,438.4 L112.7,438.4 L114.2,438.3 L115.6,438.3 L117.1,438.2 L118.6,438.2 L120.0,438.1 L121.5,438.0 L123.0,437.9 L124.4,437.8 L125.9,437.7 L127.4,437.6 L128.8,437.5 L130.3,437.4 L131.8,437.2 L133.2,437.1 L134.7,436.9 L136.2,436.8 L137.6,436.6 L139.1,436.4 L140.6,436.2 L142.0,436.0 L143.5,435.8 L145.0,435.6 L146.4,435.3 L147.9,435.0 L149.3,434.7 L150.8,434.4 L152.3,434.1 L153.7,433.8 L155.2,433.4 L156.7,433.0 L158.1,432.6 L159.6,432.2 L161.1,431.7 L162.5,431.3 L164.0,430.8 L165.5,430.3 L166.9,429.8 L168.4,429.2 L169.9,428.7 L171.3,428.1 L172.8,427.5 L174.3,426.8 L175.7,426.2 L177.2,425.5 L178.7,424.9 L180.1,424.2 L181.6,423.5 L183.1,422.8 L184.5,422.0 L186.0,421.3 L187.4,420.6 L188.9,419.8 L190.4,419.1 L191.8,418.3 L193.3,417.6 L194.8,416.8 L196.2,416.1 L197.7,415.3 L199.2,414.6 L200.6,413.9 L202.1,413.2 L203.6,412.5 L205.0,411.9 L206.5,411.2 L208.0,410.6 L209.4,410.1 L210.9,409.6 L212.4,409.1 L213.8,408.7 L215.3,408.3 L216.8,408.0 L218.2,407.7 L219.7,407.5 L221.2,407.4 L222.6,407.3 L224.1,407.3 L225.5,407.3 L227.0,407.4 L228.5,407.5 L229.9,407.7 L231.4,407.9 L232.9,408.2 L234.3,408.4 L235.8,408.7 L237.3,409.1 L238.7,409.5 L240.2,409.9 L241.7,410.3 L243.1,410.7 L244.6,411.2 L246.1,411.7 L247.5,412.3 L249.0,412.8 L250.5,413.4 L251.9,413.9 L253.4,414.5 L254.9,415.1 L256.3,415.6 L257.8,416.2 L259.3,416.8 L260.7,417.3 L262.2,417.8 L263.6,418.3 L265.1,418.8 L266.6,419.2 L268.0,419.6 L269.5,420.0 L271.0,420.3 L272.4,420.5 L273.9,420.8 L275.4,420.9 L276.8,421.1 L278.3,421.2 L279.8,421.2 L281.2,421.2 L282.7,421.2" fill="none" stroke="#4d7fb7" stroke-width="1.6" stroke-linejoin="round" stroke-linecap="butt" />
<path d="M49.7,460.2 L51.2,460.3 L52.6,460.5 L54.1,460.6 L55.6,460.7 L57.0,460.9 L58.5,461.0 L60.0,461.2 L61.4,461.4 L62.9,461.5 L64.4,461.7 L65.8,461.9 L67.3,462.1 L68.8,462.3 L70.2,462.5 L71.7,462.7 L73.1,463.0 L74.6,463.2 L76.1,463.4 L77.5,463.7 L79.0,464.0 L80.5,464.3 L81.9,464.7 L83.4,465.0 L84.9,465.3 L86.3,465.6 L87.8,465.8 L89.3,466.1 L90.7,466.3 L92.2,466.5 L93.7,466.7 L95.1,466.9 L96.6,467.1 L98.1,467.3 L99.5,467.5 L101.0,467.7 L102.5,467.9 L103.9,468.1 L105.4,468.2 L106.9,468.4 L108.3,468.5 L109.8,468.7 L111.2,468.8 L112.7,468.9 L114.2,469.0 L115.6,469.1 L117.1,469.2 L118.6,469.2 L120.0,469.3 L121.5,469.3 L123.0,469.4 L124.4,469.4 L125.9,469.5 L127.4,469.5 L128.8,469.5 L130.3,469.6 L131.8,469.6 L133.2,469.6 L134.7,469.6 L136.2,469.6 L137.6,469.6 L139.1,469.6 L140.6,469.6 L142.0,469.6 L143.5,469.5 L145.0,469.5 L146.4,469.5 L147.9,469.4 L149.3,469.4 L150.8,469.4 L152.3,469.3 L153.7,469.2 L155.2,469.1 L156.7,469.0 L158.1,468.9 L159.6,468.7 L161.1,468.5 L162.5,468.3 L164.0,468.0 L165.5,467.7 L166.9,467.4 L168.4,466.9 L169.9,466.4 L171.3,466.0 L172.8,465.5 L174.3,465.0 L175.7,464.6 L177.2,464.1 L178.7,463.7 L180.1,463.2 L181.6,462.7 L183.1,462.2 L184.5,461.7 L186.0,461.2 L187.4,460.6 L188.9,460.1 L190.4,459.5 L191.8,459.0 L193.3,458.5 L194.8,457.9 L196.2,457.3 L197.7,456.5 L199.2,455.6 L200.6,454.7 L202.1,453.7 L203.6,452.8 L205.0,451.8 L206.5,450.9 L208.0,449.9 L209.4,448.9 L210.9,448.1 L212.4,447.3 L213.8,446.6 L215.3,445.9 L216.8,445.3 L218.2,444.6 L219.7,444.0 L221.2,443.4 L222.6,442.9 L224.1,442.3 L225.5,441.8 L227.0,441.3 L228.5,440.9 L229.9,440.4 L231.4,440.1 L232.9,439.7 L234.3,439.4 L235.8,439.1 L237.3,438.8 L238.7,438.6 L240.2,438.4 L241.7,438.2 L243.1,438.0 L244.6,437.9 L246.1,437.8 L247.5,437.8 L249.0,437.9 L250.5,438.0 L251.9,438.2 L253.4,438.5 L254.9,438.8 L256.3,439.1 L257.8,439.5 L259.3,440.0 L260.7,440.5 L262.2,441.0 L263.6,441.5 L265.1,442.1 L266.6,442.6 L268.0,443.2 L269.5,443.8 L271.0,444.4 L272.4,445.0 L273.9,445.5 L275.4,446.1 L276.8,446.6 L278.3,447.1 L279.8,447.6 L281.2,448.1 L282.7,448.6" fill="none" stroke="#2f9e44" stroke-width="1.9" stroke-linejoin="round" stroke-linecap="butt" />
</g>
<line x1="218.9" y1="334.9" x2="218.9" y2="469" stroke="#4a4ac0" stroke-width="1.7" stroke-dasharray="6.5,3.7"/>
<rect x="49.7" y="282.3" width="232.3" height="187.2" fill="none" stroke="#333333" stroke-width="1.5"/>
<line x1="88.4" y1="469.5" x2="88.4" y2="466.3" stroke="#333333" stroke-width="1.2"/>
<line x1="127.1" y1="469.5" x2="127.1" y2="466.3" stroke="#333333" stroke-width="1.2"/>
<line x1="165.9" y1="469.5" x2="165.9" y2="466.3" stroke="#333333" stroke-width="1.2"/>
<line x1="204.6" y1="469.5" x2="204.6" y2="466.3" stroke="#333333" stroke-width="1.2"/>
<line x1="243.3" y1="469.5" x2="243.3" y2="466.3" stroke="#333333" stroke-width="1.2"/>
<text x="49.7" y="483.4" font-size="11.4" text-anchor="middle" >1270</text>
<text x="88.4" y="483.4" font-size="11.4" text-anchor="middle" >1260</text>
<text x="127.1" y="483.4" font-size="11.4" text-anchor="middle" >1250</text>
<text x="165.9" y="483.4" font-size="11.4" text-anchor="middle" >1240</text>
<text x="204.6" y="483.4" font-size="11.4" text-anchor="middle" >1230</text>
<text x="243.3" y="483.4" font-size="11.4" text-anchor="middle" >1220</text>
<text x="282.0" y="483.4" font-size="11.4" text-anchor="middle" >1210</text>
<line x1="57.2" y1="293.5" x2="85.60000000000001" y2="293.5" stroke="#b3a13c" stroke-width="1.8"/>
<text x="88.4" y="297.4" font-size="12.6" text-anchor="start" >LiFSI</text>
<line x1="57.2" y1="308.7" x2="85.60000000000001" y2="308.7" stroke="#a3283a" stroke-width="1.8"/>
<text x="88.4" y="312.59999999999997" font-size="12.6" text-anchor="start" >LiFSI-MP-M3F</text>
<line x1="57.2" y1="324.3" x2="85.60000000000001" y2="324.3" stroke="#4d7fb7" stroke-width="1.8"/>
<text x="88.4" y="328.2" font-size="12.6" text-anchor="start" >LiFSI-MP-M5F</text>
<line x1="57.2" y1="339.7" x2="85.60000000000001" y2="339.7" stroke="#2f9e44" stroke-width="1.8"/>
<text x="88.4" y="343.59999999999997" font-size="12.6" text-anchor="start" >LiFSI-MP-M7F</text>
<text x="238.1" y="299.8" font-size="12.4" text-anchor="middle" >S=O in anion</text>
<text x="169" y="502.2" font-size="14.8" text-anchor="middle" >Raman shift <tspan font-size="11.5">(</tspan>cm<tspan font-size="9.5" dy="-5">-1</tspan><tspan dy="5" font-size="11.5">)</tspan></text>
<text transform="translate(38.2,381.5) rotate(-90)" font-size="14.8" text-anchor="middle">Absorbance (a.u.)</text>
</g>
<g id="panel-e">
<text x="336.5" y="268.6" font-size="24.5" text-anchor="start" >e</text>
<clipPath id="cle"><rect x="363.3" y="278.7" width="235.7" height="188.2"/></clipPath>
<g clip-path="url(#cle)">
<path d="M363.3,461.6 L363.9,461.6 L364.5,461.6 L365.1,461.6 L365.7,461.6 L366.3,461.6 L366.8,461.6 L367.4,461.6 L368.0,461.6 L368.6,461.6 L369.2,461.6 L369.8,461.6 L370.4,461.6 L371.0,461.6 L371.6,461.6 L372.2,461.6 L372.8,461.6 L373.3,461.6 L373.9,461.6 L374.5,461.6 L375.1,461.6 L375.7,461.6 L376.3,461.6 L376.9,461.6 L377.5,461.6 L378.1,461.6 L378.7,461.6 L379.2,461.6 L379.8,461.6 L380.4,461.6 L381.0,461.6 L381.6,461.6 L382.2,461.6 L382.8,461.6 L383.4,461.6 L384.0,461.6 L384.6,461.6 L385.2,461.6 L385.7,461.6 L386.3,461.6 L386.9,461.6 L387.5,461.5 L388.1,461.5 L388.7,461.5 L389.3,461.5 L389.9,461.5 L390.5,461.5 L391.1,461.4 L391.7,461.4 L392.2,461.3 L392.8,461.2 L393.4,461.1 L394.0,461.0 L394.6,460.9 L395.2,460.8 L395.8,460.6 L396.4,460.5 L397.0,460.3 L397.6,460.0 L398.2,459.7 L398.7,459.4 L399.3,459.1 L399.9,458.8 L400.5,458.6 L401.1,458.4 L401.7,458.1 L402.3,458.0 L402.9,457.9 L403.5,457.9 L404.1,458.1 L404.7,458.3 L405.2,458.5 L405.8,458.7 L406.4,459.0 L407.0,459.2 L407.6,459.6 L408.2,459.9 L408.8,460.2 L409.4,460.4 L410.0,460.6 L410.6,460.7 L411.1,460.9 L411.7,461.0 L412.3,461.1 L412.9,461.2 L413.5,461.3 L414.1,461.4 L414.7,461.4 L415.3,461.5 L415.9,461.5 L416.5,461.5 L417.1,461.5 L417.6,461.5 L418.2,461.5 L418.8,461.5 L419.4,461.5 L420.0,461.5 L420.6,461.5 L421.2,461.5 L421.8,461.5 L422.4,461.5 L423.0,461.5 L423.6,461.5 L424.1,461.5 L424.7,461.5 L425.3,461.5 L425.9,461.5 L426.5,461.5 L427.1,461.5 L427.7,461.4 L428.3,461.4 L428.9,461.4 L429.5,461.4 L430.1,461.3 L430.6,461.3 L431.2,461.3 L431.8,461.2 L432.4,461.2 L433.0,461.1 L433.6,461.0 L434.2,460.8 L434.8,460.7 L435.4,460.5 L436.0,460.3 L436.6,460.1 L437.1,460.0 L437.7,459.7 L438.3,459.5 L438.9,459.2 L439.5,458.9 L440.1,458.6 L440.7,458.2 L441.3,457.8 L441.9,457.4 L442.5,456.9 L443.0,456.4 L443.6,455.8 L444.2,455.1 L444.8,454.4 L445.4,453.7 L446.0,453.1 L446.6,452.4 L447.2,451.8 L447.8,451.2 L448.4,450.6 L449.0,450.0 L449.5,449.4 L450.1,448.8 L450.7,448.3 L451.3,447.8 L451.9,447.3 L452.5,446.9 L453.1,446.6 L453.7,446.2 L454.3,445.9 L454.9,445.6 L455.5,445.3 L456.0,445.0 L456.6,444.7 L457.2,444.5 L457.8,444.2 L458.4,444.0 L459.0,443.8 L459.6,443.7 L460.2,443.5 L460.8,443.5 L461.4,443.4 L462.0,443.4 L462.5,443.4 L463.1,443.5 L463.7,443.5 L464.3,443.6 L464.9,443.6 L465.5,443.7 L466.1,443.8 L466.7,443.9 L467.3,444.0 L467.9,444.1 L468.4,444.3 L469.0,444.4 L469.6,444.5 L470.2,444.7 L470.8,444.8 L471.4,445.0 L472.0,445.2 L472.6,445.5 L473.2,445.7 L473.8,446.0 L474.4,446.3 L474.9,446.6 L475.5,446.9 L476.1,447.2 L476.7,447.5 L477.3,447.9 L477.9,448.2 L478.5,448.4 L479.1,448.8 L479.7,449.1 L480.3,449.4 L480.9,449.7 L481.4,450.1 L482.0,450.4 L482.6,450.7 L483.2,451.1 L483.8,451.4 L484.4,451.8 L485.0,452.1 L485.6,452.4 L486.2,452.8 L486.8,453.1 L487.4,453.4 L487.9,453.7 L488.5,454.1 L489.1,454.4 L489.7,454.8 L490.3,455.1 L490.9,455.4 L491.5,455.7 L492.1,456.0 L492.7,456.3 L493.3,456.5 L493.9,456.8 L494.4,456.9 L495.0,457.1 L495.6,457.3 L496.2,457.5 L496.8,457.6 L497.4,457.7 L498.0,457.8 L498.6,457.9 L499.2,457.9 L499.8,457.9 L500.3,457.8 L500.9,457.7 L501.5,457.6 L502.1,457.4 L502.7,457.2 L503.3,457.0 L503.9,456.8 L504.5,456.6 L505.1,456.4 L505.7,456.1 L506.3,455.7 L506.8,455.3 L507.4,454.8 L508.0,454.3 L508.6,453.7 L509.2,453.2 L509.8,452.6 L510.4,452.0 L511.0,451.5 L511.6,451.0 L512.2,450.5 L512.8,449.9 L513.3,449.3 L513.9,448.8 L514.5,448.2 L515.1,447.6 L515.7,447.1 L516.3,446.5 L516.9,446.0 L517.5,445.5 L518.1,444.9 L518.7,444.4 L519.3,443.9 L519.8,443.3 L520.4,442.8 L521.0,442.3 L521.6,441.8 L522.2,441.3 L522.8,440.9 L523.4,440.5 L524.0,440.2 L524.6,439.9 L525.2,439.6 L525.7,439.4 L526.3,439.1 L526.9,438.8 L527.5,438.6 L528.1,438.5 L528.7,438.4 L529.3,438.3 L529.9,438.3 L530.5,438.4 L531.1,438.5 L531.7,438.6 L532.2,438.8 L532.8,439.0 L533.4,439.2 L534.0,439.5 L534.6,439.7 L535.2,440.0 L535.8,440.4 L536.4,441.0 L537.0,441.6 L537.6,442.2 L538.2,442.9 L538.7,443.4 L539.3,443.8 L539.9,444.3 L540.5,444.8 L541.1,445.2 L541.7,445.5 L542.3,445.8 L542.9,445.9 L543.5,445.8 L544.1,445.6 L544.7,445.3 L545.2,444.9 L545.8,444.3 L546.4,443.8 L547.0,443.2 L547.6,442.4 L548.2,441.4 L548.8,440.3 L549.4,438.9 L550.0,437.5 L550.6,436.1 L551.2,434.6 L551.7,433.1 L552.3,431.5 L552.9,429.7 L553.5,427.9 L554.1,426.1 L554.7,424.2 L555.3,422.3 L555.9,420.4 L556.5,418.5 L557.1,416.7 L557.6,414.8 L558.2,412.9 L558.8,410.9 L559.4,408.7 L560.0,406.5 L560.6,404.0 L561.2,401.3 L561.8,398.5 L562.4,395.5 L563.0,392.2 L563.6,388.6 L564.1,384.5 L564.7,380.2 L565.3,375.8 L565.9,371.6 L566.5,367.5 L567.1,363.3 L567.7,359.2 L568.3,355.3 L568.9,351.7 L569.5,348.4 L570.1,345.2 L570.6,342.2 L571.2,339.5 L571.8,337.1 L572.4,335.1 L573.0,333.1 L573.6,331.4 L574.2,330.1 L574.8,329.2 L575.4,328.5 L576.0,328.1 L576.6,328.0 L577.1,328.4 L577.7,328.9 L578.3,329.6 L578.9,330.7 L579.5,332.2 L580.1,334.0 L580.7,335.9 L581.3,338.0 L581.9,340.3 L582.5,342.8 L583.1,345.5 L583.6,348.3 L584.2,351.1 L584.8,354.1 L585.4,357.2 L586.0,360.4 L586.6,363.7 L587.2,367.1 L587.8,370.5 L588.4,374.1 L589.0,377.7 L589.5,381.3 L590.1,384.8 L590.7,388.4 L591.3,392.0 L591.9,395.6 L592.5,399.1 L593.1,402.5 L593.7,405.8 L594.3,409.0 L594.9,412.2 L595.5,415.3 L596.0,418.2 L596.6,421.1 L597.2,424.0 L597.8,426.7 L598.4,429.4 L599.0,432.0" fill="none" stroke="#a3283a" stroke-width="1.6" stroke-linejoin="round" stroke-linecap="butt" />
<path d="M363.3,461.6 L364.1,461.6 L364.8,461.6 L365.6,461.6 L366.4,461.6 L367.1,461.6 L367.9,461.6 L368.6,461.6 L369.4,461.6 L370.2,461.6 L370.9,461.6 L371.7,461.6 L372.5,461.6 L373.2,461.6 L374.0,461.6 L374.7,461.6 L375.5,461.6 L376.3,461.6 L377.0,461.6 L377.8,461.6 L378.6,461.6 L379.3,461.6 L380.1,461.6 L380.8,461.6 L381.6,461.6 L382.4,461.6 L383.1,461.6 L383.9,461.6 L384.7,461.6 L385.4,461.6 L386.2,461.6 L386.9,461.6 L387.7,461.6 L388.5,461.6 L389.2,461.6 L390.0,461.6 L390.8,461.6 L391.5,461.6 L392.3,461.5 L393.1,461.5 L393.8,461.5 L394.6,461.5 L395.3,461.5 L396.1,461.5 L396.9,461.5 L397.6,461.5 L398.4,461.5 L399.2,461.5 L399.9,461.5 L400.7,461.5 L401.4,461.5 L402.2,461.5 L403.0,461.5 L403.7,461.5 L404.5,461.5 L405.3,461.5 L406.0,461.5 L406.8,461.5 L407.5,461.5 L408.3,461.5 L409.1,461.5 L409.8,461.5 L410.6,461.5 L411.4,461.4 L412.1,461.4 L412.9,461.4 L413.6,461.4 L414.4,461.4 L415.2,461.4 L415.9,461.4 L416.7,461.4 L417.5,461.4 L418.2,461.4 L419.0,461.4 L419.8,461.4 L420.5,461.4 L421.3,461.4 L422.0,461.4 L422.8,461.4 L423.6,461.4 L424.3,461.4 L425.1,461.4 L425.9,461.4 L426.6,461.4 L427.4,461.4 L428.1,461.4 L428.9,461.3 L429.7,461.3 L430.4,461.3 L431.2,461.3 L432.0,461.3 L432.7,461.3 L433.5,461.2 L434.2,461.0 L435.0,460.9 L435.8,460.7 L436.5,460.5 L437.3,460.3 L438.1,460.1 L438.8,459.8 L439.6,459.6 L440.4,459.3 L441.1,458.9 L441.9,458.6 L442.6,458.4 L443.4,458.0 L444.2,457.7 L444.9,457.4 L445.7,457.1 L446.5,456.8 L447.2,456.5 L448.0,456.2 L448.7,455.9 L449.5,455.7 L450.3,455.4 L451.0,455.1 L451.8,454.9 L452.6,454.7 L453.3,454.5 L454.1,454.4 L454.8,454.3 L455.6,454.1 L456.4,454.0 L457.1,453.9 L457.9,453.8 L458.7,453.7 L459.4,453.6 L460.2,453.5 L460.9,453.5 L461.7,453.5 L462.5,453.5 L463.2,453.5 L464.0,453.6 L464.8,453.6 L465.5,453.7 L466.3,453.8 L467.1,453.9 L467.8,453.9 L468.6,454.0 L469.3,454.1 L470.1,454.2 L470.9,454.3 L471.6,454.4 L472.4,454.6 L473.2,454.7 L473.9,454.9 L474.7,455.0 L475.4,455.2 L476.2,455.4 L477.0,455.5 L477.7,455.7 L478.5,455.9 L479.3,456.0 L480.0,456.2 L480.8,456.4 L481.5,456.5 L482.3,456.7 L483.1,456.9 L483.8,457.1 L484.6,457.3 L485.4,457.4 L486.1,457.6 L486.9,457.8 L487.6,457.9 L488.4,458.1 L489.2,458.3 L489.9,458.4 L490.7,458.5 L491.5,458.7 L492.2,458.8 L493.0,458.9 L493.8,459.0 L494.5,459.2 L495.3,459.3 L496.0,459.4 L496.8,459.5 L497.6,459.6 L498.3,459.7 L499.1,459.7 L499.9,459.8 L500.6,459.8 L501.4,459.9 L502.1,459.9 L502.9,460.0 L503.7,460.0 L504.4,460.1 L505.2,460.1 L506.0,460.2 L506.7,460.2 L507.5,460.2 L508.2,460.3 L509.0,460.3 L509.8,460.3 L510.5,460.3 L511.3,460.3 L512.1,460.2 L512.8,460.2 L513.6,460.1 L514.3,460.0 L515.1,459.9 L515.9,459.8 L516.6,459.6 L517.4,459.5 L518.2,459.4 L518.9,459.2 L519.7,459.0 L520.5,458.9 L521.2,458.6 L522.0,458.4 L522.7,458.2 L523.5,457.9 L524.3,457.7 L525.0,457.4 L525.8,457.1 L526.6,456.8 L527.3,456.5 L528.1,456.1 L528.8,455.7 L529.6,455.4 L530.4,455.0 L531.1,454.6 L531.9,454.2 L532.7,453.9 L533.4,453.5 L534.2,453.1 L534.9,452.7 L535.7,452.3 L536.5,451.9 L537.2,451.5 L538.0,451.1 L538.8,450.8 L539.5,450.4 L540.3,450.1 L541.1,449.7 L541.8,449.4 L542.6,449.1 L543.3,448.8 L544.1,448.5 L544.9,448.3 L545.6,448.2 L546.4,448.0 L547.2,447.8 L547.9,447.7 L548.7,447.7 L549.4,447.7 L550.2,447.8 L551.0,447.9 L551.7,448.1 L552.5,448.2 L553.3,448.4 L554.0,448.5 L554.8,448.8 L555.5,449.0 L556.3,449.3 L557.1,449.6 L557.8,449.9 L558.6,450.3 L559.4,450.6 L560.1,451.0 L560.9,451.4 L561.6,451.8 L562.4,452.2 L563.2,452.7 L563.9,453.1 L564.7,453.5 L565.5,453.9 L566.2,454.3 L567.0,454.7 L567.8,455.1 L568.5,455.5 L569.3,455.9 L570.0,456.3 L570.8,456.7 L571.6,457.1 L572.3,457.5 L573.1,457.8 L573.9,458.1 L574.6,458.5 L575.4,458.8 L576.1,459.1 L576.9,459.4 L577.7,459.6 L578.4,459.9 L579.2,460.2 L580.0,460.4 L580.7,460.5 L581.5,460.7 L582.2,460.8 L583.0,460.9 L583.8,461.0 L584.5,461.1 L585.3,461.2 L586.1,461.3 L586.8,461.4 L587.6,461.4 L588.3,461.5 L589.1,461.6 L589.9,461.6 L590.6,461.7 L591.4,461.7" fill="none" stroke="#4d7fb7" stroke-width="1.6" stroke-linejoin="round" stroke-linecap="butt" />
<path d="M363.3,461.6 L363.8,461.6 L364.4,461.6 L364.9,461.6 L365.4,461.6 L366.0,461.6 L366.5,461.6 L367.0,461.6 L367.5,461.6 L368.1,461.6 L368.6,461.6 L369.1,461.6 L369.7,461.6 L370.2,461.6 L370.7,461.6 L371.3,461.6 L371.8,461.6 L372.3,461.6 L372.9,461.6 L373.4,461.6 L373.9,461.6 L374.4,461.6 L375.0,461.6 L375.5,461.6 L376.0,461.6 L376.6,461.6 L377.1,461.6 L377.6,461.6 L378.2,461.6 L378.7,461.6 L379.2,461.6 L379.7,461.6 L380.3,461.6 L380.8,461.6 L381.3,461.6 L381.9,461.6 L382.4,461.6 L382.9,461.6 L383.5,461.6 L384.0,461.6 L384.5,461.6 L385.1,461.6 L385.6,461.6 L386.1,461.6 L386.6,461.6 L387.2,461.6 L387.7,461.6 L388.2,461.5 L388.8,461.5 L389.3,461.5 L389.8,461.5 L390.4,461.5 L390.9,461.5 L391.4,461.5 L392.0,461.5 L392.5,461.5 L393.0,461.5 L393.5,461.4 L394.1,461.4 L394.6,461.4 L395.1,461.4 L395.7,461.4 L396.2,461.3 L396.7,461.2 L397.3,461.1 L397.8,461.0 L398.3,460.9 L398.8,460.8 L399.4,460.7 L399.9,460.6 L400.4,460.5 L401.0,460.4 L401.5,460.3 L402.0,460.3 L402.6,460.2 L403.1,460.2 L403.6,460.2 L404.2,460.3 L404.7,460.4 L405.2,460.5 L405.7,460.6 L406.3,460.7 L406.8,460.8 L407.3,460.9 L407.9,461.0 L408.4,461.1 L408.9,461.2 L409.5,461.3 L410.0,461.3 L410.5,461.4 L411.1,461.4 L411.6,461.4 L412.1,461.4 L412.6,461.4 L413.2,461.4 L413.7,461.4 L414.2,461.4 L414.8,461.4 L415.3,461.4 L415.8,461.4 L416.4,461.4 L416.9,461.4 L417.4,461.4 L417.9,461.4 L418.5,461.4 L419.0,461.4 L419.5,461.4 L420.1,461.4 L420.6,461.4 L421.1,461.4 L421.7,461.4 L422.2,461.4 L422.7,461.4 L423.3,461.4 L423.8,461.4 L424.3,461.4 L424.8,461.4 L425.4,461.4 L425.9,461.4 L426.4,461.4 L427.0,461.4 L427.5,461.4 L428.0,461.4 L428.6,461.3 L429.1,461.3 L429.6,461.3 L430.2,461.3 L430.7,461.3 L431.2,461.2 L431.7,461.2 L432.3,461.2 L432.8,461.1 L433.3,461.1 L433.9,461.0 L434.4,460.9 L434.9,460.7 L435.5,460.6 L436.0,460.5 L436.5,460.3 L437.1,460.2 L437.6,460.0 L438.1,459.8 L438.6,459.6 L439.2,459.3 L439.7,459.1 L440.2,458.8 L440.8,458.5 L441.3,458.2 L441.8,457.9 L442.4,457.6 L442.9,457.2 L443.4,456.9 L443.9,456.5 L444.5,456.0 L445.0,455.6 L445.5,455.2 L446.1,454.8 L446.6,454.5 L447.1,454.1 L447.7,453.8 L448.2,453.5 L448.7,453.1 L449.3,452.8 L449.8,452.5 L450.3,452.2 L450.8,451.9 L451.4,451.6 L451.9,451.4 L452.4,451.2 L453.0,451.0 L453.5,450.8 L454.0,450.7 L454.6,450.5 L455.1,450.4 L455.6,450.2 L456.2,450.1 L456.7,449.9 L457.2,449.8 L457.7,449.7 L458.3,449.6 L458.8,449.5 L459.3,449.4 L459.9,449.3 L460.4,449.3 L460.9,449.2 L461.5,449.2 L462.0,449.2 L462.5,449.2 L463.0,449.2 L463.6,449.3 L464.1,449.3 L464.6,449.4 L465.2,449.4 L465.7,449.5 L466.2,449.6 L466.8,449.6 L467.3,449.7 L467.8,449.8 L468.4,449.9 L468.9,450.0 L469.4,450.1 L469.9,450.2 L470.5,450.3 L471.0,450.4 L471.5,450.5 L472.1,450.7 L472.6,450.8 L473.1,451.0 L473.7,451.2 L474.2,451.4 L474.7,451.6 L475.3,451.8 L475.8,452.0 L476.3,452.2 L476.8,452.4 L477.4,452.6 L477.9,452.8 L478.4,453.0 L479.0,453.2 L479.5,453.4 L480.0,453.6 L480.6,453.8 L481.1,454.0 L481.6,454.2 L482.1,454.4 L482.7,454.7 L483.2,454.9 L483.7,455.1 L484.3,455.3 L484.8,455.5 L485.3,455.8 L485.9,456.0 L486.4,456.2 L486.9,456.4 L487.5,456.6 L488.0,456.8 L488.5,457.0 L489.0,457.2 L489.6,457.4 L490.1,457.6 L490.6,457.8 L491.2,458.0 L491.7,458.2 L492.2,458.4 L492.8,458.5 L493.3,458.7 L493.8,458.8 L494.4,458.9 L494.9,458.9 L495.4,459.0 L495.9,459.1 L496.5,459.1 L497.0,459.2 L497.5,459.2 L498.1,459.3 L498.6,459.3 L499.1,459.3 L499.7,459.2 L500.2,459.1 L500.7,458.9 L501.2,458.6 L501.8,458.3 L502.3,458.0 L502.8,457.7 L503.4,457.4 L503.9,457.0 L504.4,456.6 L505.0,456.1 L505.5,455.7 L506.0,455.2 L506.6,454.6 L507.1,454.1 L507.6,453.5 L508.1,452.9 L508.7,452.3 L509.2,451.6 L509.7,450.9 L510.3,450.3 L510.8,449.6 L511.3,449.0 L511.9,448.4 L512.4,447.7 L512.9,447.1 L513.5,446.5 L514.0,446.0 L514.5,445.6 L515.0,445.2 L515.6,444.9 L516.1,444.5 L516.6,444.3 L517.2,444.0 L517.7,443.9 L518.2,443.9 L518.8,444.0 L519.3,444.1 L519.8,444.3 L520.4,444.5 L520.9,444.7 L521.4,445.0 L521.9,445.3 L522.5,445.7 L523.0,446.2 L523.5,446.7 L524.1,447.2 L524.6,447.6 L525.1,448.1 L525.7,448.6 L526.2,449.1 L526.7,449.6 L527.2,450.2 L527.8,450.7 L528.3,451.2 L528.8,451.7 L529.4,452.1 L529.9,452.6 L530.4,453.0 L531.0,453.4 L531.5,453.8 L532.0,454.0 L532.6,454.2 L533.1,454.4 L533.6,454.5 L534.1,454.7 L534.7,454.8 L535.2,454.8 L535.7,454.8 L536.3,454.6 L536.8,454.4 L537.3,454.1 L537.9,453.7 L538.4,453.3 L538.9,452.8 L539.5,451.9 L540.0,451.0 L540.5,450.0 L541.0,449.1 L541.6,448.5 L542.1,447.9 L542.6,447.3 L543.2,446.6 L543.7,445.6 L544.2,443.8 L544.8,441.6 L545.3,439.1 L545.8,436.7 L546.3,434.7 L546.9,432.7 L547.4,430.8 L547.9,428.9 L548.5,426.9 L549.0,424.8 L549.5,422.6 L550.1,420.2 L550.6,417.4 L551.1,414.4 L551.7,411.6 L552.2,409.2 L552.7,406.8 L553.2,404.5 L553.8,402.5 L554.3,400.9 L554.8,399.8 L555.4,398.8 L555.9,397.8 L556.4,397.1 L557.0,396.7 L557.5,396.6 L558.0,397.0 L558.6,397.7 L559.1,398.6 L559.6,399.6 L560.1,400.9 L560.7,402.8 L561.2,405.2 L561.7,407.7 L562.3,410.3 L562.8,413.1 L563.3,416.1 L563.9,419.0 L564.4,421.8 L564.9,424.5 L565.4,427.0 L566.0,429.5 L566.5,431.9 L567.0,434.2 L567.6,436.4 L568.1,438.6 L568.6,440.7 L569.2,442.7 L569.7,444.6 L570.2,446.3 L570.8,448.0 L571.3,449.5 L571.8,450.8 L572.3,452.1 L572.9,453.3 L573.4,454.4 L573.9,455.5 L574.5,456.4 L575.0,457.3" fill="none" stroke="#2f9e44" stroke-width="2.1" stroke-linejoin="round" stroke-linecap="butt" />
</g>
<line x1="442" y1="393" x2="442" y2="466" stroke="#1a1a1a" stroke-width="1.7" stroke-dasharray="3.9,2.8"/>
<line x1="519.9" y1="347.5" x2="519.9" y2="466" stroke="#1a1a1a" stroke-width="1.7" stroke-dasharray="3.9,2.8"/>
<rect x="363.3" y="278.7" width="235.3" height="189.2" fill="none" stroke="#333333" stroke-width="1.5"/>
<line x1="403.0" y1="467.9" x2="403.0" y2="464.7" stroke="#333333" stroke-width="1.2"/>
<line x1="442.0" y1="467.9" x2="442.0" y2="464.7" stroke="#333333" stroke-width="1.2"/>
<line x1="481.0" y1="467.9" x2="481.0" y2="464.7" stroke="#333333" stroke-width="1.2"/>
<line x1="520.0" y1="467.9" x2="520.0" y2="464.7" stroke="#333333" stroke-width="1.2"/>
<line x1="559.0" y1="467.9" x2="559.0" y2="464.7" stroke="#333333" stroke-width="1.2"/>
<text x="364.0" y="481.2" font-size="11.4" text-anchor="middle" >1E-6</text>
<text x="403.0" y="481.2" font-size="11.4" text-anchor="middle" >1E-5</text>
<text x="442.0" y="481.2" font-size="11.4" text-anchor="middle" >1E-4</text>
<text x="481.0" y="481.2" font-size="11.4" text-anchor="middle" >0.001</text>
<text x="520.0" y="481.2" font-size="11.4" text-anchor="middle" >0.01</text>
<text x="559.0" y="481.2" font-size="11.4" text-anchor="middle" >0.1</text>
<text x="598.0" y="481.2" font-size="11.4" text-anchor="middle" >1</text>
<line x1="371.0" y1="292.2" x2="400.59999999999997" y2="292.2" stroke="#a3283a" stroke-width="1.8"/>
<text x="402.9" y="296.09999999999997" font-size="12.4" text-anchor="start" >LiFSI-MP-M3F</text>
<line x1="371.0" y1="307.40000000000003" x2="400.59999999999997" y2="307.40000000000003" stroke="#4d7fb7" stroke-width="1.8"/>
<text x="402.9" y="311.3" font-size="12.4" text-anchor="start" >LiFSI-MP-M5F</text>
<line x1="371.0" y1="323.1" x2="400.59999999999997" y2="323.1" stroke="#2f9e44" stroke-width="1.8"/>
<text x="402.9" y="327.0" font-size="12.4" text-anchor="start" >LiFSI-MP-M7F</text>
<text x="558.4" y="308.3" font-size="11.9" text-anchor="middle" >Charge</text>
<text x="559.3" y="322.3" font-size="11.9" text-anchor="middle" >transfer</text>
<text x="480.6" y="421.5" font-size="11.4" text-anchor="middle" >SEI</text>
<text x="484.5" y="500.8" font-size="13.6" text-anchor="middle" >τ (s)</text>
<text transform="translate(350.8,367) rotate(-90)" font-size="14.8" text-anchor="middle">γ(τ) ( Ω/cm<tspan font-size="9.5" dy="-5">2</tspan><tspan dy="5">)</tspan></text>
</g>
<g id="panel-f">
<text x="646.6" y="268.2" font-size="24.5" text-anchor="start" >f</text>
<line x1="679.8" y1="322.2" x2="684.8" y2="322.2" stroke="#333333" stroke-width="1.1"/>
<line x1="679.8" y1="364.4" x2="684.8" y2="364.4" stroke="#333333" stroke-width="1.1"/>
<line x1="679.8" y1="406.4" x2="684.8" y2="406.4" stroke="#333333" stroke-width="1.1"/>
<line x1="679.8" y1="448.0" x2="684.8" y2="448.0" stroke="#333333" stroke-width="1.1"/>
<clipPath id="clf"><rect x="680" y="279.6" width="235.6" height="188.3"/></clipPath>
<g clip-path="url(#clf)">
<path d="M680.0,448.0 L680.7,448.0 L681.5,448.0 L682.2,448.0 L683.0,448.0 L683.7,448.0 L684.4,448.0 L685.2,448.0 L685.9,448.0 L686.7,448.0 L687.4,448.0 L688.1,448.0 L688.9,448.0 L689.6,448.0 L690.3,448.0 L691.1,448.0 L691.8,448.0 L692.6,448.0 L693.3,448.0 L694.0,448.0 L694.8,448.0 L695.5,448.0 L696.3,448.0 L697.0,448.0 L697.7,448.0 L698.5,448.0 L699.2,448.0 L700.0,448.0 L700.7,448.0 L701.4,448.0 L702.2,448.0 L702.9,448.0 L703.7,448.0 L704.4,448.0 L705.1,448.0 L705.9,448.0 L706.6,448.0 L707.3,448.0 L708.1,448.0 L708.8,448.0 L709.6,448.0 L710.3,448.0 L711.0,448.0 L711.8,448.0 L712.5,448.0 L713.3,448.0 L714.0,448.0 L714.7,448.0 L715.5,448.0 L716.2,448.0 L717.0,448.0 L717.7,448.0 L718.4,448.0 L719.2,448.0 L719.9,448.0 L720.7,448.0 L721.4,448.0 L722.1,448.0 L722.9,448.0 L723.6,448.0 L724.3,448.0 L725.1,448.0 L725.8,448.0 L726.6,448.0 L727.3,448.0 L728.0,448.0 L728.8,448.0 L729.5,448.0 L730.3,448.0 L731.0,448.0 L731.7,448.0 L732.5,448.0 L733.2,448.0 L734.0,448.0 L734.7,448.0 L735.4,448.0 L736.2,448.0 L736.9,448.0 L737.7,448.0 L738.4,448.0 L739.1,448.0 L739.9,448.0 L740.6,448.0 L741.3,448.0 L742.1,448.0 L742.8,448.0 L743.6,448.0 L744.3,448.0 L745.0,447.9 L745.8,447.9 L746.5,447.9 L747.3,447.9 L748.0,447.9 L748.7,447.9 L749.5,447.9 L750.2,447.9 L751.0,447.9 L751.7,447.9 L752.4,447.9 L753.2,447.9 L753.9,447.9 L754.7,447.9 L755.4,447.9 L756.1,447.8 L756.9,447.8 L757.6,447.8 L758.3,447.8 L759.1,447.8 L759.8,447.8 L760.6,447.8 L761.3,447.8 L762.0,447.8 L762.8,447.8 L763.5,447.7 L764.3,447.7 L765.0,447.7 L765.7,447.7 L766.5,447.6 L767.2,447.6 L768.0,447.6 L768.7,447.6 L769.4,447.5 L770.2,447.5 L770.9,447.5 L771.7,447.4 L772.4,447.4 L773.1,447.3 L773.9,447.3 L774.6,447.3 L775.3,447.2 L776.1,447.2 L776.8,447.1 L777.6,447.0 L778.3,447.0 L779.0,446.9 L779.8,446.8 L780.5,446.7 L781.3,446.6 L782.0,446.5 L782.7,446.4 L783.5,446.3 L784.2,446.2 L785.0,446.1 L785.7,446.0 L786.4,445.9 L787.2,445.8 L787.9,445.7 L788.7,445.6 L789.4,445.5 L790.1,445.3 L790.9,445.2 L791.6,445.0 L792.3,444.9 L793.1,444.7 L793.8,444.6 L794.6,444.4 L795.3,444.2 L796.0,444.1 L796.8,443.9 L797.5,443.7 L798.3,443.5 L799.0,443.4 L799.7,443.2 L800.5,443.0 L801.2,442.8 L802.0,442.6 L802.7,442.4 L803.4,442.2 L804.2,442.0 L804.9,441.8 L805.7,441.6 L806.4,441.4 L807.1,441.1 L807.9,440.9 L808.6,440.6 L809.3,440.4 L810.1,440.1 L810.8,439.8 L811.6,439.5 L812.3,439.2 L813.0,438.8 L813.8,438.4 L814.5,438.0 L815.3,437.6 L816.0,437.2 L816.7,436.7 L817.5,436.3 L818.2,435.8 L819.0,435.3 L819.7,434.8 L820.4,434.3 L821.2,433.8 L821.9,433.2 L822.7,432.7 L823.4,432.1 L824.1,431.5 L824.9,430.8 L825.6,430.2 L826.3,429.5 L827.1,428.8 L827.8,428.2 L828.6,427.5 L829.3,426.8 L830.0,426.0 L830.8,425.3 L831.5,424.5 L832.3,423.8 L833.0,423.0 L833.7,422.2 L834.5,421.4 L835.2,420.5 L836.0,419.7 L836.7,418.8 L837.4,417.9 L838.2,417.0 L838.9,416.1 L839.7,415.2 L840.4,414.2 L841.1,413.3 L841.9,412.4 L842.6,411.6 L843.3,410.9 L844.1,410.4 L844.8,409.8 L845.6,409.4 L846.3,408.9 L847.0,408.5 L847.8,408.1 L848.5,407.5 L849.3,407.0 L850.0,406.3 L850.7,405.6 L851.5,404.9 L852.2,404.2 L853.0,403.4 L853.7,402.6 L854.4,401.8 L855.2,401.0 L855.9,400.2 L856.7,399.5 L857.4,398.7 L858.1,397.9 L858.9,397.1 L859.6,396.3 L860.3,395.4 L861.1,394.5 L861.8,393.7 L862.6,392.8 L863.3,391.9 L864.0,390.9 L864.8,390.0 L865.5,389.1 L866.3,388.2 L867.0,387.1 L867.7,386.0 L868.5,384.8 L869.2,383.4 L870.0,381.8 L870.7,380.1 L871.4,378.4 L872.2,376.6 L872.9,374.7 L873.7,372.7 L874.4,370.6 L875.1,368.5 L875.9,366.4 L876.6,364.2 L877.3,362.0 L878.1,359.7 L878.8,357.3 L879.6,355.0 L880.3,352.6 L881.0,350.1 L881.8,347.7 L882.5,345.3 L883.3,342.9 L884.0,340.5 L884.7,338.0 L885.5,335.5 L886.2,333.0 L887.0,330.3 L887.7,327.6 L888.4,324.7 L889.2,321.7 L889.9,318.7 L890.7,315.6 L891.4,312.5 L892.1,309.5 L892.9,306.4 L893.6,303.2 L894.3,300.1 L895.1,296.9 L895.8,293.7 L896.6,290.6 L897.3,287.4 L898.0,284.2 L898.8,281.0 L899.5,277.7 L900.3,274.4 L901.0,271.0" fill="none" stroke="#bd2430" stroke-width="1.6" stroke-linejoin="round" stroke-linecap="butt" />
<path d="M680.0,448.2 L680.8,448.2 L681.6,448.2 L682.4,448.2 L683.2,448.2 L683.9,448.2 L684.7,448.2 L685.5,448.2 L686.3,448.2 L687.1,448.2 L687.9,448.2 L688.7,448.2 L689.5,448.2 L690.2,448.2 L691.0,448.2 L691.8,448.2 L692.6,448.2 L693.4,448.2 L694.2,448.2 L695.0,448.2 L695.8,448.2 L696.5,448.2 L697.3,448.2 L698.1,448.2 L698.9,448.2 L699.7,448.2 L700.5,448.2 L701.3,448.2 L702.1,448.2 L702.9,448.2 L703.6,448.2 L704.4,448.2 L705.2,448.2 L706.0,448.2 L706.8,448.2 L707.6,448.2 L708.4,448.2 L709.2,448.2 L709.9,448.2 L710.7,448.2 L711.5,448.2 L712.3,448.2 L713.1,448.2 L713.9,448.2 L714.7,448.2 L715.5,448.2 L716.2,448.2 L717.0,448.2 L717.8,448.2 L718.6,448.2 L719.4,448.2 L720.2,448.2 L721.0,448.2 L721.8,448.2 L722.5,448.2 L723.3,448.2 L724.1,448.2 L724.9,448.2 L725.7,448.2 L726.5,448.2 L727.3,448.2 L728.1,448.2 L728.9,448.2 L729.6,448.2 L730.4,448.2 L731.2,448.2 L732.0,448.2 L732.8,448.2 L733.6,448.2 L734.4,448.2 L735.2,448.2 L735.9,448.2 L736.7,448.2 L737.5,448.2 L738.3,448.2 L739.1,448.2 L739.9,448.2 L740.7,448.2 L741.5,448.2 L742.2,448.2 L743.0,448.2 L743.8,448.2 L744.6,448.2 L745.4,448.2 L746.2,448.2 L747.0,448.2 L747.8,448.2 L748.6,448.2 L749.3,448.2 L750.1,448.2 L750.9,448.2 L751.7,448.2 L752.5,448.1 L753.3,448.1 L754.1,448.1 L754.9,448.1 L755.6,448.1 L756.4,448.1 L757.2,448.1 L758.0,448.1 L758.8,448.1 L759.6,448.1 L760.4,448.1 L761.2,448.1 L761.9,448.1 L762.7,448.1 L763.5,448.1 L764.3,448.1 L765.1,448.1 L765.9,448.1 L766.7,448.1 L767.5,448.1 L768.3,448.1 L769.0,448.1 L769.8,448.1 L770.6,448.1 L771.4,448.0 L772.2,448.0 L773.0,448.0 L773.8,448.0 L774.6,448.0 L775.3,448.0 L776.1,448.0 L776.9,448.0 L777.7,448.0 L778.5,448.0 L779.3,448.0 L780.1,448.0 L780.9,448.0 L781.6,448.0 L782.4,448.0 L783.2,448.0 L784.0,448.0 L784.8,448.0 L785.6,448.0 L786.4,448.0 L787.2,448.0 L788.0,448.0 L788.7,447.9 L789.5,447.9 L790.3,447.9 L791.1,447.9 L791.9,447.9 L792.7,447.9 L793.5,447.9 L794.3,447.9 L795.0,447.9 L795.8,447.9 L796.6,447.9 L797.4,447.9 L798.2,447.9 L799.0,447.9 L799.8,447.9 L800.6,447.9 L801.3,447.8 L802.1,447.8 L802.9,447.8 L803.7,447.8 L804.5,447.8 L805.3,447.8 L806.1,447.8 L806.9,447.8 L807.6,447.8 L808.4,447.8 L809.2,447.8 L810.0,447.7 L810.8,447.7 L811.6,447.7 L812.4,447.7 L813.2,447.7 L814.0,447.7 L814.7,447.7 L815.5,447.7 L816.3,447.7 L817.1,447.6 L817.9,447.6 L818.7,447.6 L819.5,447.6 L820.3,447.6 L821.0,447.6 L821.8,447.6 L822.6,447.5 L823.4,447.5 L824.2,447.5 L825.0,447.5 L825.8,447.5 L826.6,447.4 L827.3,447.4 L828.1,447.4 L828.9,447.4 L829.7,447.3 L830.5,447.3 L831.3,447.3 L832.1,447.2 L832.9,447.2 L833.7,447.2 L834.4,447.1 L835.2,447.1 L836.0,447.0 L836.8,447.0 L837.6,446.9 L838.4,446.9 L839.2,446.9 L840.0,446.8 L840.7,446.7 L841.5,446.7 L842.3,446.6 L843.1,446.5 L843.9,446.5 L844.7,446.3 L845.5,446.2 L846.3,446.1 L847.0,445.9 L847.8,445.5 L848.6,445.2 L849.4,444.9 L850.2,444.6 L851.0,444.4 L851.8,444.2 L852.6,444.0 L853.4,443.9 L854.1,443.8 L854.9,443.6 L855.7,443.5 L856.5,443.3 L857.3,443.0 L858.1,442.7 L858.9,442.4 L859.7,442.3 L860.4,442.2 L861.2,442.1 L862.0,442.0 L862.8,441.9 L863.6,441.8 L864.4,441.8 L865.2,441.7 L866.0,441.7 L866.7,441.6 L867.5,441.6 L868.3,441.5 L869.1,441.5 L869.9,441.4 L870.7,441.3 L871.5,441.3 L872.3,441.2 L873.1,441.1 L873.8,441.1 L874.6,441.0 L875.4,440.9 L876.2,440.8 L877.0,440.7 L877.8,440.7 L878.6,440.6 L879.4,440.5 L880.1,440.4 L880.9,440.3 L881.7,440.1 L882.5,440.0 L883.3,439.9 L884.1,439.7 L884.9,439.6 L885.7,439.4 L886.4,439.2 L887.2,439.0 L888.0,438.7 L888.8,438.5 L889.6,438.2 L890.4,437.8 L891.2,437.3 L892.0,436.8 L892.7,436.2 L893.5,435.6 L894.3,434.9 L895.1,434.2 L895.9,433.4 L896.7,432.4 L897.5,431.3 L898.3,430.2 L899.1,428.9 L899.8,427.5 L900.6,425.8 L901.4,424.0 L902.2,422.1 L903.0,420.1 L903.8,417.9 L904.6,415.5 L905.4,413.0 L906.1,410.5 L906.9,408.1 L907.7,405.6 L908.5,403.0 L909.3,400.3 L910.1,397.3 L910.9,393.9 L911.7,390.3 L912.4,386.6 L913.2,382.9 L914.0,379.3 L914.8,375.7 L915.6,372.0" fill="none" stroke="#4d7fb7" stroke-width="1.6" stroke-linejoin="round" stroke-linecap="butt" />
<path d="M680.0,448.0 L680.8,448.0 L681.6,448.0 L682.4,448.0 L683.2,448.0 L683.9,448.0 L684.7,448.0 L685.5,448.0 L686.3,448.0 L687.1,448.0 L687.9,448.0 L688.7,448.0 L689.5,448.0 L690.2,448.0 L691.0,448.0 L691.8,448.0 L692.6,448.0 L693.4,448.0 L694.2,448.0 L695.0,448.0 L695.8,448.0 L696.5,448.0 L697.3,448.0 L698.1,448.0 L698.9,448.0 L699.7,448.0 L700.5,448.0 L701.3,448.0 L702.1,448.0 L702.9,448.0 L703.6,448.0 L704.4,448.0 L705.2,448.0 L706.0,448.0 L706.8,448.0 L707.6,448.0 L708.4,448.0 L709.2,448.0 L709.9,448.0 L710.7,448.0 L711.5,448.0 L712.3,448.0 L713.1,448.0 L713.9,448.0 L714.7,448.0 L715.5,448.0 L716.2,448.0 L717.0,448.0 L717.8,448.0 L718.6,448.0 L719.4,448.0 L720.2,448.0 L721.0,448.0 L721.8,448.0 L722.5,448.0 L723.3,448.0 L724.1,448.0 L724.9,448.0 L725.7,448.0 L726.5,448.0 L727.3,448.0 L728.1,448.0 L728.9,448.0 L729.6,448.0 L730.4,448.0 L731.2,448.0 L732.0,448.0 L732.8,448.0 L733.6,448.0 L734.4,448.0 L735.2,448.0 L735.9,448.0 L736.7,448.0 L737.5,448.0 L738.3,448.0 L739.1,448.0 L739.9,448.0 L740.7,448.0 L741.5,448.0 L742.2,448.0 L743.0,447.9 L743.8,447.9 L744.6,447.9 L745.4,447.9 L746.2,447.9 L747.0,447.9 L747.8,447.9 L748.6,447.9 L749.3,447.9 L750.1,447.9 L750.9,447.9 L751.7,447.9 L752.5,447.9 L753.3,447.8 L754.1,447.8 L754.9,447.8 L755.6,447.8 L756.4,447.8 L757.2,447.8 L758.0,447.8 L758.8,447.8 L759.6,447.8 L760.4,447.8 L761.2,447.7 L761.9,447.7 L762.7,447.7 L763.5,447.7 L764.3,447.7 L765.1,447.7 L765.9,447.7 L766.7,447.7 L767.5,447.6 L768.3,447.6 L769.0,447.6 L769.8,447.6 L770.6,447.6 L771.4,447.6 L772.2,447.6 L773.0,447.5 L773.8,447.5 L774.6,447.5 L775.3,447.5 L776.1,447.4 L776.9,447.4 L777.7,447.4 L778.5,447.4 L779.3,447.3 L780.1,447.3 L780.9,447.3 L781.6,447.2 L782.4,447.2 L783.2,447.1 L784.0,447.1 L784.8,447.1 L785.6,447.0 L786.4,447.0 L787.2,446.9 L788.0,446.9 L788.7,446.8 L789.5,446.8 L790.3,446.7 L791.1,446.6 L791.9,446.6 L792.7,446.5 L793.5,446.4 L794.3,446.4 L795.0,446.3 L795.8,446.2 L796.6,446.1 L797.4,446.1 L798.2,446.0 L799.0,445.9 L799.8,445.8 L800.6,445.7 L801.3,445.7 L802.1,445.6 L802.9,445.5 L803.7,445.4 L804.5,445.4 L805.3,445.3 L806.1,445.2 L806.9,445.1 L807.6,445.0 L808.4,445.0 L809.2,444.9 L810.0,444.8 L810.8,444.7 L811.6,444.6 L812.4,444.4 L813.2,444.3 L814.0,444.2 L814.7,444.1 L815.5,443.9 L816.3,443.8 L817.1,443.6 L817.9,443.5 L818.7,443.3 L819.5,443.2 L820.3,443.0 L821.0,442.8 L821.8,442.7 L822.6,442.5 L823.4,442.3 L824.2,442.2 L825.0,442.0 L825.8,441.8 L826.6,441.7 L827.3,441.5 L828.1,441.3 L828.9,441.1 L829.7,440.9 L830.5,440.7 L831.3,440.5 L832.1,440.3 L832.9,440.1 L833.7,439.9 L834.4,439.7 L835.2,439.5 L836.0,439.3 L836.8,439.0 L837.6,438.8 L838.4,438.6 L839.2,438.4 L840.0,438.2 L840.7,438.0 L841.5,437.8 L842.3,437.6 L843.1,437.3 L843.9,437.1 L844.7,436.9 L845.5,436.7 L846.3,436.5 L847.0,436.2 L847.8,436.0 L848.6,435.8 L849.4,435.6 L850.2,435.3 L851.0,435.1 L851.8,434.9 L852.6,434.7 L853.4,434.4 L854.1,434.2 L854.9,434.0 L855.7,433.8 L856.5,433.5 L857.3,433.3 L858.1,433.1 L858.9,432.9 L859.7,432.6 L860.4,432.4 L861.2,432.2 L862.0,431.9 L862.8,431.7 L863.6,431.5 L864.4,431.3 L865.2,431.1 L866.0,430.8 L866.7,430.6 L867.5,430.4 L868.3,430.2 L869.1,430.0 L869.9,429.7 L870.7,429.5 L871.5,429.3 L872.3,429.0 L873.1,428.7 L873.8,428.4 L874.6,428.2 L875.4,427.8 L876.2,427.5 L877.0,427.1 L877.8,426.8 L878.6,426.4 L879.4,426.0 L880.1,425.6 L880.9,425.1 L881.7,424.7 L882.5,424.2 L883.3,423.8 L884.1,423.4 L884.9,422.9 L885.7,422.4 L886.4,422.0 L887.2,421.5 L888.0,421.0 L888.8,420.5 L889.6,420.0 L890.4,419.4 L891.2,418.9 L892.0,418.3 L892.7,417.7 L893.5,417.0 L894.3,416.4 L895.1,415.7 L895.9,414.9 L896.7,414.2 L897.5,413.4 L898.3,412.6 L899.1,411.7 L899.8,410.9 L900.6,409.9 L901.4,409.0 L902.2,407.9 L903.0,406.9 L903.8,405.7 L904.6,404.6 L905.4,403.3 L906.1,402.0 L906.9,400.5 L907.7,399.0 L908.5,397.4 L909.3,395.8 L910.1,394.2 L910.9,392.4 L911.7,390.5 L912.4,388.2 L913.2,385.4 L914.0,382.1 L914.8,378.2 L915.6,374.0" fill="none" stroke="#2f9e44" stroke-width="1.9" stroke-linejoin="round" stroke-linecap="butt" />
</g>
<rect x="679.8" y="280.1" width="235.2" height="189.1" fill="none" stroke="#333333" stroke-width="1.5"/>
<text x="676.2" y="283.8" font-size="11.4" text-anchor="end" >8</text>
<text x="676.2" y="326.0" font-size="11.4" text-anchor="end" >6</text>
<text x="676.2" y="368.2" font-size="11.4" text-anchor="end" >4</text>
<text x="676.2" y="410.2" font-size="11.4" text-anchor="end" >2</text>
<text x="676.2" y="451.8" font-size="11.4" text-anchor="end" >0</text>
<line x1="727.2" y1="469.2" x2="727.2" y2="466.0" stroke="#333333" stroke-width="1.2"/>
<line x1="774.1" y1="469.2" x2="774.1" y2="466.0" stroke="#333333" stroke-width="1.2"/>
<line x1="821.1" y1="469.2" x2="821.1" y2="466.0" stroke="#333333" stroke-width="1.2"/>
<line x1="868.0" y1="469.2" x2="868.0" y2="466.0" stroke="#333333" stroke-width="1.2"/>
<text x="680.2" y="482.0" font-size="11.4" text-anchor="middle" >3.0</text>
<text x="727.2" y="482.0" font-size="11.4" text-anchor="middle" >3.5</text>
<text x="774.1" y="482.0" font-size="11.4" text-anchor="middle" >4.0</text>
<text x="821.1" y="482.0" font-size="11.4" text-anchor="middle" >4.5</text>
<text x="868.0" y="482.0" font-size="11.4" text-anchor="middle" >5.0</text>
<text x="915.0" y="482.0" font-size="11.4" text-anchor="middle" >5.5</text>
<line x1="688.0" y1="295.3" x2="717.4" y2="295.3" stroke="#bd2430" stroke-width="1.8"/>
<text x="720.1999999999999" y="299.2" font-size="12.25" text-anchor="start" >LiFSI-MP-M3F</text>
<line x1="688.0" y1="311.2" x2="717.4" y2="311.2" stroke="#4d7fb7" stroke-width="1.8"/>
<text x="720.1999999999999" y="315.09999999999997" font-size="12.25" text-anchor="start" >LiFSI-MP-M5F</text>
<line x1="688.0" y1="326.8" x2="717.4" y2="326.8" stroke="#2f9e44" stroke-width="1.8"/>
<text x="720.1999999999999" y="330.7" font-size="12.25" text-anchor="start" >LiFSI-MP-M7F</text>
<text x="796.7" y="501.5" font-size="14.8" text-anchor="middle" >Potential (V)</text>
<text transform="translate(660.8,369.9) rotate(-90)" font-size="14.95" text-anchor="middle">Current density (mA cm<tspan font-size="9.5" dy="-5">-2</tspan><tspan dy="5">)</tspan></text>
</g>
</svg>
</body>
</html>
